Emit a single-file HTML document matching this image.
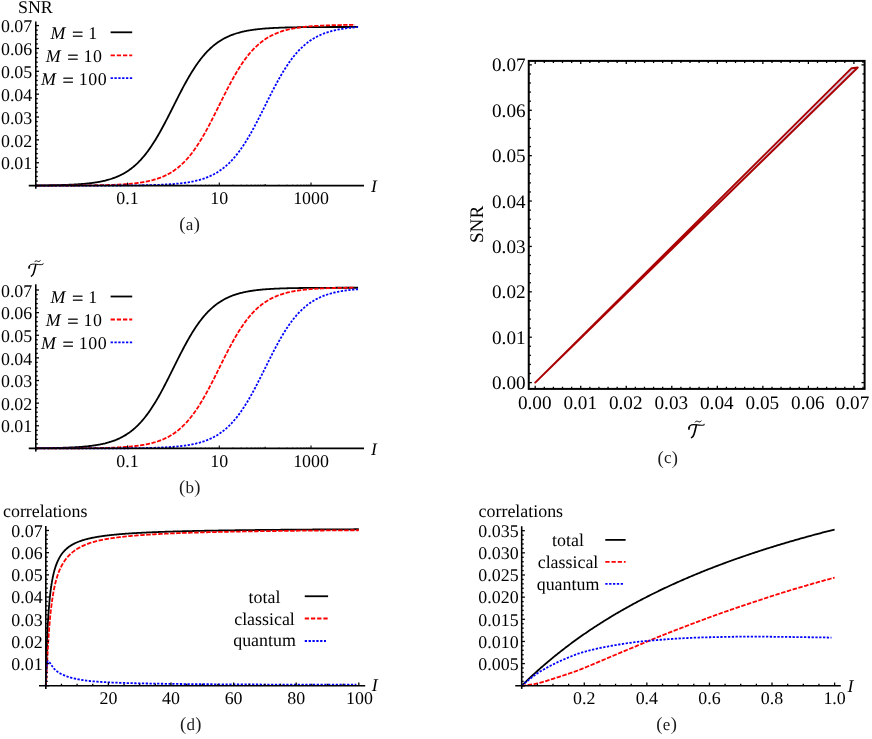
<!DOCTYPE html>
<html><head><meta charset="utf-8"><title>figure</title>
<style>html,body{margin:0;padding:0;background:#fff;}svg{display:block;}text{font-family:"Liberation Serif",serif;text-rendering:geometricPrecision;}svg{will-change:transform;}</style></head><body>
<svg width="872" height="739" viewBox="0 0 872 739">
<rect width="872" height="739" fill="#fff"/>
<path d="M35.78 185.44 L36.58 185.43 L37.39 185.43 L38.2 185.42 L39.01 185.41 L39.81 185.41 L40.62 185.4 L41.43 185.39 L42.24 185.38 L43.04 185.37 L43.85 185.36 L44.66 185.35 L45.47 185.34 L46.28 185.33 L47.08 185.32 L47.89 185.31 L48.7 185.3 L49.51 185.28 L50.31 185.27 L51.12 185.26 L51.93 185.24 L52.74 185.23 L53.54 185.21 L54.35 185.2 L55.16 185.18 L55.97 185.16 L56.78 185.15 L57.58 185.13 L58.39 185.11 L59.2 185.09 L60.01 185.07 L60.81 185.04 L61.62 185.02 L62.43 185 L63.24 184.97 L64.04 184.95 L64.85 184.92 L65.66 184.89 L66.47 184.86 L67.28 184.83 L68.08 184.8 L68.89 184.77 L69.7 184.73 L70.51 184.7 L71.31 184.66 L72.12 184.62 L72.93 184.58 L73.74 184.54 L74.54 184.5 L75.35 184.45 L76.16 184.4 L76.97 184.36 L77.78 184.3 L78.58 184.25 L79.39 184.2 L80.2 184.14 L81.01 184.08 L81.81 184.02 L82.62 183.95 L83.43 183.88 L84.24 183.81 L85.04 183.74 L85.85 183.66 L86.66 183.59 L87.47 183.5 L88.28 183.42 L89.08 183.33 L89.89 183.24 L90.7 183.14 L91.51 183.04 L92.31 182.94 L93.12 182.83 L93.93 182.72 L94.74 182.6 L95.54 182.48 L96.35 182.35 L97.16 182.22 L97.97 182.08 L98.78 181.94 L99.58 181.79 L100.39 181.64 L101.2 181.48 L102.01 181.31 L102.81 181.14 L103.62 180.96 L104.43 180.77 L105.24 180.58 L106.04 180.38 L106.85 180.17 L107.66 179.95 L108.47 179.73 L109.28 179.5 L110.08 179.25 L110.89 179 L111.7 178.74 L112.51 178.47 L113.31 178.19 L114.12 177.9 L114.93 177.59 L115.74 177.28 L116.54 176.96 L117.35 176.62 L118.16 176.27 L118.97 175.91 L119.78 175.53 L120.58 175.14 L121.39 174.74 L122.2 174.32 L123.01 173.89 L123.81 173.44 L124.62 172.98 L125.43 172.5 L126.24 172 L127.04 171.49 L127.85 170.96 L128.66 170.41 L129.47 169.85 L130.28 169.26 L131.08 168.66 L131.89 168.03 L132.7 167.39 L133.51 166.73 L134.31 166.04 L135.12 165.34 L135.93 164.61 L136.74 163.86 L137.55 163.09 L138.35 162.29 L139.16 161.48 L139.97 160.64 L140.78 159.77 L141.58 158.88 L142.39 157.97 L143.2 157.03 L144.01 156.07 L144.81 155.08 L145.62 154.07 L146.43 153.04 L147.24 151.97 L148.05 150.89 L148.85 149.77 L149.66 148.64 L150.47 147.48 L151.28 146.29 L152.08 145.08 L152.89 143.84 L153.7 142.58 L154.51 141.3 L155.31 140 L156.12 138.67 L156.93 137.32 L157.74 135.94 L158.55 134.55 L159.35 133.14 L160.16 131.7 L160.97 130.25 L161.78 128.78 L162.58 127.29 L163.39 125.79 L164.2 124.27 L165.01 122.74 L165.81 121.2 L166.62 119.64 L167.43 118.07 L168.24 116.5 L169.05 114.91 L169.85 113.32 L170.66 111.72 L171.47 110.12 L172.28 108.51 L173.08 106.91 L173.89 105.3 L174.7 103.69 L175.51 102.09 L176.31 100.48 L177.12 98.89 L177.93 97.3 L178.74 95.71 L179.55 94.14 L180.35 92.57 L181.16 91.02 L181.97 89.48 L182.78 87.95 L183.58 86.43 L184.39 84.93 L185.2 83.45 L186.01 81.98 L186.81 80.54 L187.62 79.11 L188.43 77.7 L189.24 76.31 L190.05 74.94 L190.85 73.59 L191.66 72.27 L192.47 70.97 L193.28 69.69 L194.08 68.44 L194.89 67.21 L195.7 66 L196.51 64.82 L197.31 63.67 L198.12 62.53 L198.93 61.43 L199.74 60.35 L200.55 59.29 L201.35 58.26 L202.16 57.25 L202.97 56.27 L203.78 55.31 L204.58 54.38 L205.39 53.47 L206.2 52.59 L207.01 51.73 L207.81 50.9 L208.62 50.08 L209.43 49.29 L210.24 48.53 L211.05 47.78 L211.85 47.06 L212.66 46.36 L213.47 45.68 L214.28 45.02 L215.08 44.38 L215.89 43.76 L216.7 43.16 L217.51 42.58 L218.31 42.02 L219.12 41.47 L219.93 40.95 L220.74 40.44 L221.55 39.95 L222.35 39.47 L223.16 39.01 L223.97 38.57 L224.78 38.14 L225.58 37.73 L226.39 37.33 L227.2 36.94 L228.01 36.57 L228.82 36.21 L229.62 35.86 L230.43 35.52 L231.24 35.2 L232.05 34.89 L232.85 34.59 L233.66 34.3 L234.47 34.02 L235.28 33.75 L236.08 33.49 L236.89 33.24 L237.7 33 L238.51 32.77 L239.32 32.55 L240.12 32.33 L240.93 32.13 L241.74 31.93 L242.55 31.74 L243.35 31.55 L244.16 31.37 L244.97 31.2 L245.78 31.04 L246.58 30.88 L247.39 30.73 L248.2 30.58 L249.01 30.44 L249.82 30.3 L250.62 30.17 L251.43 30.05 L252.24 29.93 L253.05 29.81 L253.85 29.7 L254.66 29.59 L255.47 29.49 L256.28 29.39 L257.08 29.29 L257.89 29.2 L258.7 29.11 L259.51 29.03 L260.32 28.95 L261.12 28.87 L261.93 28.79 L262.74 28.72 L263.55 28.65 L264.35 28.59 L265.16 28.52 L265.97 28.46 L266.78 28.4 L267.58 28.34 L268.39 28.29 L269.2 28.24 L270.01 28.19 L270.82 28.14 L271.62 28.09 L272.43 28.04 L273.24 28 L274.05 27.96 L274.85 27.92 L275.66 27.88 L276.47 27.85 L277.28 27.81 L278.08 27.78 L278.89 27.74 L279.7 27.71 L280.51 27.68 L281.32 27.65 L282.12 27.63 L282.93 27.6 L283.74 27.57 L284.55 27.55 L285.35 27.52 L286.16 27.5 L286.97 27.48 L287.78 27.46 L288.58 27.44 L289.39 27.42 L290.2 27.4 L291.01 27.38 L291.82 27.37 L292.62 27.35 L293.43 27.33 L294.24 27.32 L295.05 27.3 L295.85 27.29 L296.66 27.28 L297.47 27.26 L298.28 27.25 L299.08 27.24 L299.89 27.23 L300.7 27.22 L301.51 27.21 L302.32 27.2 L303.12 27.19 L303.93 27.18 L304.74 27.17 L305.55 27.16 L306.35 27.15 L307.16 27.14 L307.97 27.14 L308.78 27.13 L309.58 27.12 L310.39 27.12 L311.2 27.11 L312.01 27.1 L312.82 27.1 L313.62 27.09 L314.43 27.09 L315.24 27.08 L316.05 27.07 L316.85 27.07 L317.66 27.07 L318.47 27.06 L319.28 27.06 L320.09 27.05 L320.89 27.05 L321.7 27.04 L322.51 27.04 L323.32 27.04 L324.12 27.03 L324.93 27.03 L325.74 27.03 L326.55 27.02 L327.35 27.02 L328.16 27.02 L328.97 27.02 L329.78 27.01 L330.59 27.01 L331.39 27.01 L332.2 27.01 L333.01 27 L333.82 27 L334.62 27 L335.43 27 L336.24 27 L337.05 26.99 L337.85 26.99 L338.66 26.99 L339.47 26.99 L340.28 26.99 L341.09 26.99 L341.89 26.99 L342.7 26.98 L343.51 26.98 L344.32 26.98 L345.12 26.98 L345.93 26.98 L346.74 26.98 L347.55 26.98 L348.35 26.98 L349.16 26.97 L349.97 26.97 L350.78 26.97 L351.59 26.97 L352.39 26.97 L353.2 26.97 L354.01 26.97 L354.82 26.97 L355.62 26.97 L356.43 26.97 L357.24 26.97 L358.05 26.97" fill="none" stroke="#000" stroke-width="1.8" stroke-linejoin="round"/>
<path d="M35.78 185.58 L36.58 185.58 L37.38 185.58 L38.18 185.58 L38.98 185.58 L39.78 185.58 L40.58 185.58 L41.38 185.58 L42.18 185.58 L42.98 185.58 L43.78 185.58 L44.58 185.57 L45.38 185.57 L46.18 185.57 L46.98 185.57 L47.78 185.57 L48.58 185.57 L49.38 185.57 L50.18 185.57 L50.98 185.57 L51.78 185.56 L52.58 185.56 L53.38 185.56 L54.18 185.56 L54.98 185.56 L55.78 185.56 L56.58 185.55 L57.38 185.55 L58.18 185.55 L58.98 185.55 L59.78 185.55 L60.58 185.54 L61.38 185.54 L62.18 185.54 L62.98 185.54 L63.78 185.53 L64.58 185.53 L65.38 185.53 L66.18 185.53 L66.98 185.52 L67.78 185.52 L68.58 185.52 L69.38 185.51 L70.18 185.51 L70.98 185.51 L71.79 185.5 L72.59 185.5 L73.39 185.49 L74.19 185.49 L74.99 185.48 L75.79 185.48 L76.59 185.48 L77.39 185.47 L78.19 185.46 L78.99 185.46 L79.79 185.45 L80.59 185.45 L81.39 185.44 L82.19 185.43 L82.99 185.43 L83.79 185.42 L84.59 185.41 L85.39 185.41 L86.19 185.4 L86.99 185.39 L87.79 185.38 L88.59 185.37 L89.39 185.36 L90.19 185.35 L90.99 185.34 L91.79 185.33 L92.59 185.32 L93.39 185.31 L94.19 185.3 L94.99 185.29 L95.79 185.27 L96.59 185.26 L97.39 185.25 L98.19 185.23 L98.99 185.22 L99.79 185.2 L100.59 185.18 L101.39 185.17 L102.19 185.15 L102.99 185.13 L103.79 185.11 L104.59 185.09 L105.39 185.07 L106.19 185.05 L107 185.03 L107.8 185 L108.6 184.98 L109.4 184.95 L110.2 184.93 L111 184.9 L111.8 184.87 L112.6 184.84 L113.4 184.81 L114.2 184.78 L115 184.75 L115.8 184.71 L116.6 184.68 L117.4 184.64 L118.2 184.6 L119 184.56 L119.8 184.52 L120.6 184.47 L121.4 184.43 L122.2 184.38 L123 184.33 L123.8 184.28 L124.6 184.22 L125.4 184.17 L126.2 184.11 L127 184.05 L127.8 183.98 L128.6 183.92 L129.4 183.85 L130.2 183.78 L131 183.71 L131.8 183.63 L132.6 183.55 L133.4 183.47 L134.2 183.38 L135 183.29 L135.8 183.2 L136.6 183.1 L137.4 183 L138.2 182.9 L139 182.79 L139.8 182.67 L140.6 182.56 L141.4 182.43 L142.2 182.31 L143.01 182.17 L143.81 182.04 L144.61 181.89 L145.41 181.75 L146.21 181.59 L147.01 181.43 L147.81 181.27 L148.61 181.09 L149.41 180.91 L150.21 180.73 L151.01 180.53 L151.81 180.33 L152.61 180.13 L153.41 179.91 L154.21 179.68 L155.01 179.45 L155.81 179.21 L156.61 178.96 L157.41 178.7 L158.21 178.43 L159.01 178.15 L159.81 177.86 L160.61 177.55 L161.41 177.24 L162.21 176.92 L163.01 176.58 L163.81 176.23 L164.61 175.87 L165.41 175.5 L166.21 175.11 L167.01 174.71 L167.81 174.3 L168.61 173.87 L169.41 173.42 L170.21 172.96 L171.01 172.49 L171.81 171.99 L172.61 171.49 L173.41 170.96 L174.21 170.42 L175.01 169.86 L175.81 169.28 L176.61 168.68 L177.41 168.06 L178.22 167.42 L179.02 166.76 L179.82 166.09 L180.62 165.39 L181.42 164.67 L182.22 163.92 L183.02 163.16 L183.82 162.37 L184.62 161.56 L185.42 160.73 L186.22 159.87 L187.02 158.99 L187.82 158.09 L188.62 157.16 L189.42 156.21 L190.22 155.23 L191.02 154.23 L191.82 153.2 L192.62 152.15 L193.42 151.07 L194.22 149.97 L195.02 148.84 L195.82 147.69 L196.62 146.52 L197.42 145.32 L198.22 144.09 L199.02 142.84 L199.82 141.57 L200.62 140.27 L201.42 138.95 L202.22 137.61 L203.02 136.25 L203.82 134.86 L204.62 133.46 L205.42 132.03 L206.22 130.59 L207.02 129.12 L207.82 127.64 L208.62 126.14 L209.42 124.63 L210.22 123.1 L211.02 121.56 L211.82 120.01 L212.62 118.44 L213.43 116.86 L214.23 115.28 L215.03 113.68 L215.83 112.08 L216.63 110.47 L217.43 108.86 L218.23 107.25 L219.03 105.63 L219.83 104.02 L220.63 102.4 L221.43 100.79 L222.23 99.18 L223.03 97.58 L223.83 95.98 L224.63 94.39 L225.43 92.8 L226.23 91.23 L227.03 89.67 L227.83 88.12 L228.63 86.58 L229.43 85.06 L230.23 83.55 L231.03 82.06 L231.83 80.59 L232.63 79.13 L233.43 77.69 L234.23 76.27 L235.03 74.88 L235.83 73.5 L236.63 72.14 L237.43 70.81 L238.23 69.5 L239.03 68.21 L239.83 66.95 L240.63 65.71 L241.43 64.49 L242.23 63.3 L243.03 62.13 L243.83 60.99 L244.63 59.87 L245.43 58.78 L246.23 57.71 L247.03 56.67 L247.83 55.65 L248.63 54.66 L249.44 53.69 L250.24 52.75 L251.04 51.83 L251.84 50.94 L252.64 50.07 L253.44 49.22 L254.24 48.39 L255.04 47.59 L255.84 46.81 L256.64 46.06 L257.44 45.32 L258.24 44.61 L259.04 43.92 L259.84 43.25 L260.64 42.6 L261.44 41.97 L262.24 41.36 L263.04 40.77 L263.84 40.19 L264.64 39.64 L265.44 39.1 L266.24 38.58 L267.04 38.08 L267.84 37.6 L268.64 37.13 L269.44 36.67 L270.24 36.23 L271.04 35.81 L271.84 35.4 L272.64 35.01 L273.44 34.62 L274.24 34.25 L275.04 33.9 L275.84 33.56 L276.64 33.22 L277.44 32.9 L278.24 32.6 L279.04 32.3 L279.84 32.01 L280.64 31.74 L281.44 31.47 L282.24 31.21 L283.04 30.96 L283.84 30.73 L284.65 30.5 L285.45 30.27 L286.25 30.06 L287.05 29.86 L287.85 29.66 L288.65 29.47 L289.45 29.28 L290.25 29.11 L291.05 28.94 L291.85 28.77 L292.65 28.61 L293.45 28.46 L294.25 28.32 L295.05 28.18 L295.85 28.04 L296.65 27.91 L297.45 27.79 L298.25 27.66 L299.05 27.55 L299.85 27.44 L300.65 27.33 L301.45 27.23 L302.25 27.13 L303.05 27.03 L303.85 26.94 L304.65 26.85 L305.45 26.77 L306.25 26.69 L307.05 26.61 L307.85 26.53 L308.65 26.46 L309.45 26.39 L310.25 26.32 L311.05 26.26 L311.85 26.19 L312.65 26.14 L313.45 26.08 L314.25 26.02 L315.05 25.97 L315.85 25.92 L316.65 25.87 L317.45 25.82 L318.25 25.78 L319.05 25.73 L319.86 25.69 L320.66 25.65 L321.46 25.61 L322.26 25.58 L323.06 25.54 L323.86 25.51 L324.66 25.47 L325.46 25.44 L326.26 25.41 L327.06 25.38 L327.86 25.35 L328.66 25.33 L329.46 25.3 L330.26 25.28 L331.06 25.25 L331.86 25.23 L332.66 25.21 L333.46 25.19 L334.26 25.17 L335.06 25.15 L335.86 25.13 L336.66 25.11 L337.46 25.09 L338.26 25.07 L339.06 25.06 L339.86 25.04 L340.66 25.03 L341.46 25.01 L342.26 25 L343.06 24.99 L343.86 24.97 L344.66 24.96 L345.46 24.95 L346.26 24.94 L347.06 24.93 L347.86 24.92 L348.66 24.91 L349.46 24.9 L350.26 24.89 L351.06 24.88 L351.86 24.87 L352.66 24.86 L353.46 24.86 L354.26 24.85 L355.06 24.84" fill="none" stroke="#ff0000" stroke-width="1.8" stroke-dasharray="4.3 1.5" stroke-linejoin="round"/>
<path d="M35.78 185.6 L36.58 185.6 L37.39 185.6 L38.2 185.6 L39.01 185.6 L39.81 185.6 L40.62 185.6 L41.43 185.6 L42.24 185.6 L43.04 185.6 L43.85 185.6 L44.66 185.6 L45.47 185.6 L46.28 185.6 L47.08 185.6 L47.89 185.6 L48.7 185.6 L49.51 185.6 L50.31 185.6 L51.12 185.6 L51.93 185.6 L52.74 185.6 L53.54 185.6 L54.35 185.6 L55.16 185.6 L55.97 185.6 L56.78 185.6 L57.58 185.6 L58.39 185.6 L59.2 185.59 L60.01 185.59 L60.81 185.59 L61.62 185.59 L62.43 185.59 L63.24 185.59 L64.04 185.59 L64.85 185.59 L65.66 185.59 L66.47 185.59 L67.28 185.59 L68.08 185.59 L68.89 185.59 L69.7 185.59 L70.51 185.59 L71.31 185.59 L72.12 185.59 L72.93 185.59 L73.74 185.59 L74.54 185.59 L75.35 185.59 L76.16 185.59 L76.97 185.59 L77.78 185.59 L78.58 185.59 L79.39 185.59 L80.2 185.59 L81.01 185.58 L81.81 185.58 L82.62 185.58 L83.43 185.58 L84.24 185.58 L85.04 185.58 L85.85 185.58 L86.66 185.58 L87.47 185.58 L88.28 185.58 L89.08 185.58 L89.89 185.58 L90.7 185.57 L91.51 185.57 L92.31 185.57 L93.12 185.57 L93.93 185.57 L94.74 185.57 L95.54 185.57 L96.35 185.57 L97.16 185.57 L97.97 185.56 L98.78 185.56 L99.58 185.56 L100.39 185.56 L101.2 185.56 L102.01 185.56 L102.81 185.55 L103.62 185.55 L104.43 185.55 L105.24 185.55 L106.04 185.55 L106.85 185.54 L107.66 185.54 L108.47 185.54 L109.28 185.54 L110.08 185.53 L110.89 185.53 L111.7 185.53 L112.51 185.52 L113.31 185.52 L114.12 185.52 L114.93 185.52 L115.74 185.51 L116.54 185.51 L117.35 185.5 L118.16 185.5 L118.97 185.5 L119.78 185.49 L120.58 185.49 L121.39 185.48 L122.2 185.48 L123.01 185.47 L123.81 185.47 L124.62 185.46 L125.43 185.46 L126.24 185.45 L127.04 185.44 L127.85 185.44 L128.66 185.43 L129.47 185.42 L130.28 185.42 L131.08 185.41 L131.89 185.4 L132.7 185.39 L133.51 185.38 L134.31 185.38 L135.12 185.37 L135.93 185.36 L136.74 185.35 L137.55 185.34 L138.35 185.32 L139.16 185.31 L139.97 185.3 L140.78 185.29 L141.58 185.28 L142.39 185.26 L143.2 185.25 L144.01 185.23 L144.81 185.22 L145.62 185.2 L146.43 185.19 L147.24 185.17 L148.05 185.15 L148.85 185.13 L149.66 185.12 L150.47 185.1 L151.28 185.07 L152.08 185.05 L152.89 185.03 L153.7 185.01 L154.51 184.98 L155.31 184.96 L156.12 184.93 L156.93 184.9 L157.74 184.87 L158.55 184.84 L159.35 184.81 L160.16 184.78 L160.97 184.75 L161.78 184.71 L162.58 184.68 L163.39 184.64 L164.2 184.6 L165.01 184.56 L165.81 184.51 L166.62 184.47 L167.43 184.42 L168.24 184.37 L169.05 184.32 L169.85 184.27 L170.66 184.22 L171.47 184.16 L172.28 184.1 L173.08 184.04 L173.89 183.98 L174.7 183.91 L175.51 183.84 L176.31 183.77 L177.12 183.69 L177.93 183.62 L178.74 183.54 L179.55 183.45 L180.35 183.36 L181.16 183.27 L181.97 183.18 L182.78 183.08 L183.58 182.98 L184.39 182.87 L185.2 182.76 L186.01 182.64 L186.81 182.52 L187.62 182.4 L188.43 182.27 L189.24 182.13 L190.05 181.99 L190.85 181.85 L191.66 181.7 L192.47 181.54 L193.28 181.38 L194.08 181.21 L194.89 181.03 L195.7 180.84 L196.51 180.65 L197.31 180.46 L198.12 180.25 L198.93 180.04 L199.74 179.81 L200.55 179.58 L201.35 179.35 L202.16 179.1 L202.97 178.84 L203.78 178.57 L204.58 178.29 L205.39 178.01 L206.2 177.71 L207.01 177.4 L207.81 177.08 L208.62 176.74 L209.43 176.4 L210.24 176.04 L211.05 175.67 L211.85 175.29 L212.66 174.89 L213.47 174.47 L214.28 174.05 L215.08 173.61 L215.89 173.15 L216.7 172.67 L217.51 172.18 L218.31 171.68 L219.12 171.15 L219.93 170.61 L220.74 170.05 L221.55 169.47 L222.35 168.88 L223.16 168.26 L223.97 167.62 L224.78 166.97 L225.58 166.29 L226.39 165.59 L227.2 164.87 L228.01 164.12 L228.82 163.36 L229.62 162.57 L230.43 161.76 L231.24 160.93 L232.05 160.07 L232.85 159.19 L233.66 158.28 L234.47 157.35 L235.28 156.39 L236.08 155.41 L236.89 154.41 L237.7 153.38 L238.51 152.32 L239.32 151.24 L240.12 150.13 L240.93 149 L241.74 147.85 L242.55 146.66 L243.35 145.46 L244.16 144.23 L244.97 142.97 L245.78 141.69 L246.58 140.39 L247.39 139.06 L248.2 137.71 L249.01 136.34 L249.82 134.95 L250.62 133.53 L251.43 132.1 L252.24 130.65 L253.05 129.17 L253.85 127.68 L254.66 126.18 L255.47 124.66 L256.28 123.12 L257.08 121.57 L257.89 120 L258.7 118.43 L259.51 116.84 L260.32 115.25 L261.12 113.65 L261.93 112.04 L262.74 110.43 L263.55 108.81 L264.35 107.19 L265.16 105.57 L265.97 103.95 L266.78 102.33 L267.58 100.71 L268.39 99.09 L269.2 97.49 L270.01 95.88 L270.82 94.29 L271.62 92.71 L272.43 91.13 L273.24 89.57 L274.05 88.02 L274.85 86.48 L275.66 84.96 L276.47 83.45 L277.28 81.96 L278.08 80.49 L278.89 79.04 L279.7 77.61 L280.51 76.19 L281.32 74.8 L282.12 73.43 L282.93 72.08 L283.74 70.76 L284.55 69.45 L285.35 68.17 L286.16 66.92 L286.97 65.69 L287.78 64.48 L288.58 63.3 L289.39 62.14 L290.2 61.01 L291.01 59.91 L291.82 58.83 L292.62 57.77 L293.43 56.74 L294.24 55.74 L295.05 54.76 L295.85 53.8 L296.66 52.87 L297.47 51.97 L298.28 51.09 L299.08 50.23 L299.89 49.4 L300.7 48.59 L301.51 47.8 L302.32 47.03 L303.12 46.29 L303.93 45.57 L304.74 44.87 L305.55 44.2 L306.35 43.54 L307.16 42.9 L307.97 42.29 L308.78 41.69 L309.58 41.11 L310.39 40.55 L311.2 40.01 L312.01 39.49 L312.82 38.98 L313.62 38.49 L314.43 38.02 L315.24 37.56 L316.05 37.12 L316.85 36.69 L317.66 36.28 L318.47 35.88 L319.28 35.5 L320.09 35.13 L320.89 34.77 L321.7 34.43 L322.51 34.09 L323.32 33.77 L324.12 33.46 L324.93 33.16 L325.74 32.88 L326.55 32.6 L327.35 32.33 L328.16 32.08 L328.97 31.83 L329.78 31.59 L330.59 31.36 L331.39 31.14 L332.2 30.92 L333.01 30.72 L333.82 30.52 L334.62 30.33 L335.43 30.15 L336.24 29.97 L337.05 29.8 L337.85 29.64 L338.66 29.48 L339.47 29.33 L340.28 29.18 L341.09 29.04 L341.89 28.91 L342.7 28.78 L343.51 28.65 L344.32 28.53 L345.12 28.42 L345.93 28.31 L346.74 28.2 L347.55 28.1 L348.35 28 L349.16 27.91 L349.97 27.81 L350.78 27.73 L351.59 27.64 L352.39 27.56 L353.2 27.48 L354.01 27.41 L354.82 27.34 L355.62 27.27 L356.43 27.2 L357.24 27.14 L358.05 27.08" fill="none" stroke="#0000ff" stroke-width="1.8" stroke-dasharray="2.3 1.5" stroke-linejoin="round"/>
<line x1="28.75" y1="185.6" x2="364" y2="185.6" stroke="#000" stroke-width="1.6" />
<line x1="35.78" y1="21.5" x2="35.78" y2="188.75" stroke="#000" stroke-width="1.6" />
<line x1="35.78" y1="185.6" x2="38.98" y2="185.6" stroke="#000" stroke-width="1.3" />
<line x1="35.78" y1="181.03" x2="37.78" y2="181.03" stroke="#000" stroke-width="1.3" />
<line x1="35.78" y1="176.46" x2="37.78" y2="176.46" stroke="#000" stroke-width="1.3" />
<line x1="35.78" y1="171.88" x2="37.78" y2="171.88" stroke="#000" stroke-width="1.3" />
<line x1="35.78" y1="167.31" x2="37.78" y2="167.31" stroke="#000" stroke-width="1.3" />
<line x1="35.78" y1="162.74" x2="38.98" y2="162.74" stroke="#000" stroke-width="1.3" />
<text x="32.28" y="169.44" font-size="17.9" text-anchor="end" fill="#000" >0.01</text>
<line x1="35.78" y1="158.17" x2="37.78" y2="158.17" stroke="#000" stroke-width="1.3" />
<line x1="35.78" y1="153.6" x2="37.78" y2="153.6" stroke="#000" stroke-width="1.3" />
<line x1="35.78" y1="149.02" x2="37.78" y2="149.02" stroke="#000" stroke-width="1.3" />
<line x1="35.78" y1="144.45" x2="37.78" y2="144.45" stroke="#000" stroke-width="1.3" />
<line x1="35.78" y1="139.88" x2="38.98" y2="139.88" stroke="#000" stroke-width="1.3" />
<text x="32.28" y="146.58" font-size="17.9" text-anchor="end" fill="#000" >0.02</text>
<line x1="35.78" y1="135.31" x2="37.78" y2="135.31" stroke="#000" stroke-width="1.3" />
<line x1="35.78" y1="130.74" x2="37.78" y2="130.74" stroke="#000" stroke-width="1.3" />
<line x1="35.78" y1="126.16" x2="37.78" y2="126.16" stroke="#000" stroke-width="1.3" />
<line x1="35.78" y1="121.59" x2="37.78" y2="121.59" stroke="#000" stroke-width="1.3" />
<line x1="35.78" y1="117.02" x2="38.98" y2="117.02" stroke="#000" stroke-width="1.3" />
<text x="32.28" y="123.72" font-size="17.9" text-anchor="end" fill="#000" >0.03</text>
<line x1="35.78" y1="112.45" x2="37.78" y2="112.45" stroke="#000" stroke-width="1.3" />
<line x1="35.78" y1="107.88" x2="37.78" y2="107.88" stroke="#000" stroke-width="1.3" />
<line x1="35.78" y1="103.3" x2="37.78" y2="103.3" stroke="#000" stroke-width="1.3" />
<line x1="35.78" y1="98.73" x2="37.78" y2="98.73" stroke="#000" stroke-width="1.3" />
<line x1="35.78" y1="94.16" x2="38.98" y2="94.16" stroke="#000" stroke-width="1.3" />
<text x="32.28" y="100.86" font-size="17.9" text-anchor="end" fill="#000" >0.04</text>
<line x1="35.78" y1="89.59" x2="37.78" y2="89.59" stroke="#000" stroke-width="1.3" />
<line x1="35.78" y1="85.02" x2="37.78" y2="85.02" stroke="#000" stroke-width="1.3" />
<line x1="35.78" y1="80.44" x2="37.78" y2="80.44" stroke="#000" stroke-width="1.3" />
<line x1="35.78" y1="75.87" x2="37.78" y2="75.87" stroke="#000" stroke-width="1.3" />
<line x1="35.78" y1="71.3" x2="38.98" y2="71.3" stroke="#000" stroke-width="1.3" />
<text x="32.28" y="78" font-size="17.9" text-anchor="end" fill="#000" >0.05</text>
<line x1="35.78" y1="66.73" x2="37.78" y2="66.73" stroke="#000" stroke-width="1.3" />
<line x1="35.78" y1="62.16" x2="37.78" y2="62.16" stroke="#000" stroke-width="1.3" />
<line x1="35.78" y1="57.58" x2="37.78" y2="57.58" stroke="#000" stroke-width="1.3" />
<line x1="35.78" y1="53.01" x2="37.78" y2="53.01" stroke="#000" stroke-width="1.3" />
<line x1="35.78" y1="48.44" x2="38.98" y2="48.44" stroke="#000" stroke-width="1.3" />
<text x="32.28" y="55.14" font-size="17.9" text-anchor="end" fill="#000" >0.06</text>
<line x1="35.78" y1="43.87" x2="37.78" y2="43.87" stroke="#000" stroke-width="1.3" />
<line x1="35.78" y1="39.3" x2="37.78" y2="39.3" stroke="#000" stroke-width="1.3" />
<line x1="35.78" y1="34.72" x2="37.78" y2="34.72" stroke="#000" stroke-width="1.3" />
<line x1="35.78" y1="30.15" x2="37.78" y2="30.15" stroke="#000" stroke-width="1.3" />
<line x1="35.78" y1="25.58" x2="38.98" y2="25.58" stroke="#000" stroke-width="1.3" />
<text x="32.28" y="32.28" font-size="17.9" text-anchor="end" fill="#000" >0.07</text>
<line x1="49.58" y1="185.6" x2="49.58" y2="184.35" stroke="#000" stroke-width="0.5" />
<line x1="57.66" y1="185.6" x2="57.66" y2="184.35" stroke="#000" stroke-width="0.5" />
<line x1="63.39" y1="185.6" x2="63.39" y2="184.35" stroke="#000" stroke-width="0.5" />
<line x1="67.84" y1="185.6" x2="67.84" y2="184.35" stroke="#000" stroke-width="0.5" />
<line x1="71.47" y1="185.6" x2="71.47" y2="184.35" stroke="#000" stroke-width="0.5" />
<line x1="74.54" y1="185.6" x2="74.54" y2="184.35" stroke="#000" stroke-width="0.5" />
<line x1="77.2" y1="185.6" x2="77.2" y2="184.35" stroke="#000" stroke-width="0.5" />
<line x1="79.55" y1="185.6" x2="79.55" y2="184.35" stroke="#000" stroke-width="0.5" />
<line x1="81.65" y1="185.6" x2="81.65" y2="183.9" stroke="#000" stroke-width="1.1" />
<line x1="95.46" y1="185.6" x2="95.46" y2="184.35" stroke="#000" stroke-width="0.5" />
<line x1="103.54" y1="185.6" x2="103.54" y2="184.35" stroke="#000" stroke-width="0.5" />
<line x1="109.27" y1="185.6" x2="109.27" y2="184.35" stroke="#000" stroke-width="0.5" />
<line x1="113.72" y1="185.6" x2="113.72" y2="184.35" stroke="#000" stroke-width="0.5" />
<line x1="117.35" y1="185.6" x2="117.35" y2="184.35" stroke="#000" stroke-width="0.5" />
<line x1="120.42" y1="185.6" x2="120.42" y2="184.35" stroke="#000" stroke-width="0.5" />
<line x1="123.08" y1="185.6" x2="123.08" y2="184.35" stroke="#000" stroke-width="0.5" />
<line x1="125.43" y1="185.6" x2="125.43" y2="184.35" stroke="#000" stroke-width="0.5" />
<line x1="127.53" y1="185.6" x2="127.53" y2="182.6" stroke="#000" stroke-width="1.1" />
<line x1="141.33" y1="185.6" x2="141.33" y2="184.35" stroke="#000" stroke-width="0.5" />
<line x1="149.41" y1="185.6" x2="149.41" y2="184.35" stroke="#000" stroke-width="0.5" />
<line x1="155.14" y1="185.6" x2="155.14" y2="184.35" stroke="#000" stroke-width="0.5" />
<line x1="159.59" y1="185.6" x2="159.59" y2="184.35" stroke="#000" stroke-width="0.5" />
<line x1="163.22" y1="185.6" x2="163.22" y2="184.35" stroke="#000" stroke-width="0.5" />
<line x1="166.29" y1="185.6" x2="166.29" y2="184.35" stroke="#000" stroke-width="0.5" />
<line x1="168.95" y1="185.6" x2="168.95" y2="184.35" stroke="#000" stroke-width="0.5" />
<line x1="171.3" y1="185.6" x2="171.3" y2="184.35" stroke="#000" stroke-width="0.5" />
<line x1="173.4" y1="185.6" x2="173.4" y2="183.9" stroke="#000" stroke-width="1.1" />
<line x1="187.21" y1="185.6" x2="187.21" y2="184.35" stroke="#000" stroke-width="0.5" />
<line x1="195.29" y1="185.6" x2="195.29" y2="184.35" stroke="#000" stroke-width="0.5" />
<line x1="201.02" y1="185.6" x2="201.02" y2="184.35" stroke="#000" stroke-width="0.5" />
<line x1="205.47" y1="185.6" x2="205.47" y2="184.35" stroke="#000" stroke-width="0.5" />
<line x1="209.1" y1="185.6" x2="209.1" y2="184.35" stroke="#000" stroke-width="0.5" />
<line x1="212.17" y1="185.6" x2="212.17" y2="184.35" stroke="#000" stroke-width="0.5" />
<line x1="214.83" y1="185.6" x2="214.83" y2="184.35" stroke="#000" stroke-width="0.5" />
<line x1="217.18" y1="185.6" x2="217.18" y2="184.35" stroke="#000" stroke-width="0.5" />
<line x1="219.28" y1="185.6" x2="219.28" y2="182.6" stroke="#000" stroke-width="1.1" />
<line x1="233.08" y1="185.6" x2="233.08" y2="184.35" stroke="#000" stroke-width="0.5" />
<line x1="241.16" y1="185.6" x2="241.16" y2="184.35" stroke="#000" stroke-width="0.5" />
<line x1="246.89" y1="185.6" x2="246.89" y2="184.35" stroke="#000" stroke-width="0.5" />
<line x1="251.34" y1="185.6" x2="251.34" y2="184.35" stroke="#000" stroke-width="0.5" />
<line x1="254.97" y1="185.6" x2="254.97" y2="184.35" stroke="#000" stroke-width="0.5" />
<line x1="258.04" y1="185.6" x2="258.04" y2="184.35" stroke="#000" stroke-width="0.5" />
<line x1="260.7" y1="185.6" x2="260.7" y2="184.35" stroke="#000" stroke-width="0.5" />
<line x1="263.05" y1="185.6" x2="263.05" y2="184.35" stroke="#000" stroke-width="0.5" />
<line x1="265.15" y1="185.6" x2="265.15" y2="183.9" stroke="#000" stroke-width="1.1" />
<line x1="278.96" y1="185.6" x2="278.96" y2="184.35" stroke="#000" stroke-width="0.5" />
<line x1="287.04" y1="185.6" x2="287.04" y2="184.35" stroke="#000" stroke-width="0.5" />
<line x1="292.77" y1="185.6" x2="292.77" y2="184.35" stroke="#000" stroke-width="0.5" />
<line x1="297.22" y1="185.6" x2="297.22" y2="184.35" stroke="#000" stroke-width="0.5" />
<line x1="300.85" y1="185.6" x2="300.85" y2="184.35" stroke="#000" stroke-width="0.5" />
<line x1="303.92" y1="185.6" x2="303.92" y2="184.35" stroke="#000" stroke-width="0.5" />
<line x1="306.58" y1="185.6" x2="306.58" y2="184.35" stroke="#000" stroke-width="0.5" />
<line x1="308.93" y1="185.6" x2="308.93" y2="184.35" stroke="#000" stroke-width="0.5" />
<line x1="311.02" y1="185.6" x2="311.02" y2="182.6" stroke="#000" stroke-width="1.1" />
<text x="127.53" y="204" font-size="17.9" text-anchor="middle" fill="#000" >0.1</text>
<text x="219.28" y="204" font-size="17.9" text-anchor="middle" fill="#000" >10</text>
<text x="311.02" y="204" font-size="17.9" text-anchor="middle" fill="#000" >1000</text>
<text x="371" y="191.9" font-size="17.5" text-anchor="start" font-style="italic" fill="#000" >I</text>
<text x="18" y="12.6" font-size="17.9" text-anchor="start" fill="#000" >SNR</text>
<text x="74.1" y="38.7" font-size="17.9" text-anchor="middle" fill="#000"><tspan font-style="italic">M</tspan><tspan dx="6.7" dy="2.2" font-size="20" stroke="#000" stroke-width="0.25">=</tspan><tspan dx="4.9" dy="-2.2" letter-spacing="0.55">1</tspan></text>
<text x="74.1" y="61.9" font-size="17.9" text-anchor="middle" fill="#000"><tspan font-style="italic">M</tspan><tspan dx="6.7" dy="2.2" font-size="20" stroke="#000" stroke-width="0.25">=</tspan><tspan dx="4.9" dy="-2.2" letter-spacing="0.55">10</tspan></text>
<text x="74.1" y="84.9" font-size="17.9" text-anchor="middle" fill="#000"><tspan font-style="italic">M</tspan><tspan dx="6.7" dy="2.2" font-size="20" stroke="#000" stroke-width="0.25">=</tspan><tspan dx="4.9" dy="-2.2" letter-spacing="0.55">100</tspan></text>
<line x1="110.6" y1="32.3" x2="132.2" y2="32.3" stroke="#000" stroke-width="1.8" />
<line x1="110.6" y1="55.3" x2="132.2" y2="55.3" stroke="#ff0000" stroke-width="1.8" stroke-dasharray="4.3 1.9"/>
<line x1="110.6" y1="78.05" x2="132.2" y2="78.05" stroke="#0000ff" stroke-width="1.8" stroke-dasharray="2.3 1.55"/>
<text x="189.8" y="229.8" font-size="17" text-anchor="middle" fill="#1c1c1c" letter-spacing="0.3"><tspan font-size="18.6" dy="0.55">(</tspan><tspan dy="-0.55">a</tspan><tspan font-size="18.6" dy="0.55">)</tspan></text>
<path d="M35.78 448.24 L36.58 448.23 L37.39 448.23 L38.2 448.22 L39.01 448.21 L39.81 448.2 L40.62 448.2 L41.43 448.19 L42.24 448.18 L43.04 448.17 L43.85 448.16 L44.66 448.15 L45.47 448.14 L46.28 448.13 L47.08 448.12 L47.89 448.11 L48.7 448.09 L49.51 448.08 L50.31 448.07 L51.12 448.05 L51.93 448.04 L52.74 448.02 L53.54 448.01 L54.35 447.99 L55.16 447.98 L55.97 447.96 L56.78 447.94 L57.58 447.92 L58.39 447.9 L59.2 447.88 L60.01 447.86 L60.81 447.84 L61.62 447.81 L62.43 447.79 L63.24 447.76 L64.04 447.74 L64.85 447.71 L65.66 447.68 L66.47 447.65 L67.28 447.62 L68.08 447.59 L68.89 447.56 L69.7 447.52 L70.51 447.49 L71.31 447.45 L72.12 447.41 L72.93 447.37 L73.74 447.33 L74.54 447.28 L75.35 447.24 L76.16 447.19 L76.97 447.14 L77.78 447.09 L78.58 447.03 L79.39 446.98 L80.2 446.92 L81.01 446.86 L81.81 446.8 L82.62 446.73 L83.43 446.66 L84.24 446.59 L85.04 446.52 L85.85 446.44 L86.66 446.36 L87.47 446.28 L88.28 446.19 L89.08 446.1 L89.89 446.01 L90.7 445.91 L91.51 445.81 L92.31 445.7 L93.12 445.59 L93.93 445.48 L94.74 445.36 L95.54 445.24 L96.35 445.11 L97.16 444.97 L97.97 444.84 L98.78 444.69 L99.58 444.54 L100.39 444.39 L101.2 444.23 L102.01 444.06 L102.81 443.88 L103.62 443.7 L104.43 443.51 L105.24 443.32 L106.04 443.11 L106.85 442.9 L107.66 442.68 L108.47 442.45 L109.28 442.22 L110.08 441.97 L110.89 441.72 L111.7 441.45 L112.51 441.18 L113.31 440.89 L114.12 440.6 L114.93 440.29 L115.74 439.97 L116.54 439.64 L117.35 439.3 L118.16 438.95 L118.97 438.58 L119.78 438.2 L120.58 437.81 L121.39 437.4 L122.2 436.98 L123.01 436.54 L123.81 436.09 L124.62 435.62 L125.43 435.13 L126.24 434.63 L127.04 434.11 L127.85 433.57 L128.66 433.02 L129.47 432.45 L130.28 431.85 L131.08 431.24 L131.89 430.61 L132.7 429.96 L133.51 429.29 L134.31 428.59 L135.12 427.88 L135.93 427.14 L136.74 426.38 L137.55 425.6 L138.35 424.8 L139.16 423.97 L139.97 423.12 L140.78 422.24 L141.58 421.34 L142.39 420.42 L143.2 419.47 L144.01 418.49 L144.81 417.49 L145.62 416.47 L146.43 415.42 L147.24 414.34 L148.05 413.24 L148.85 412.12 L149.66 410.97 L150.47 409.79 L151.28 408.59 L152.08 407.36 L152.89 406.11 L153.7 404.83 L154.51 403.54 L155.31 402.21 L156.12 400.87 L156.93 399.5 L157.74 398.11 L158.55 396.7 L159.35 395.27 L160.16 393.82 L160.97 392.34 L161.78 390.86 L162.58 389.35 L163.39 387.83 L164.2 386.29 L165.01 384.74 L165.81 383.17 L166.62 381.6 L167.43 380.01 L168.24 378.41 L169.05 376.81 L169.85 375.2 L170.66 373.58 L171.47 371.95 L172.28 370.33 L173.08 368.7 L173.89 367.07 L174.7 365.45 L175.51 363.82 L176.31 362.2 L177.12 360.58 L177.93 358.97 L178.74 357.37 L179.55 355.77 L180.35 354.19 L181.16 352.61 L181.97 351.05 L182.78 349.5 L183.58 347.97 L184.39 346.45 L185.2 344.95 L186.01 343.46 L186.81 341.99 L187.62 340.55 L188.43 339.12 L189.24 337.71 L190.05 336.33 L190.85 334.97 L191.66 333.62 L192.47 332.31 L193.28 331.01 L194.08 329.74 L194.89 328.5 L195.7 327.28 L196.51 326.08 L197.31 324.91 L198.12 323.76 L198.93 322.64 L199.74 321.55 L200.55 320.48 L201.35 319.43 L202.16 318.41 L202.97 317.42 L203.78 316.45 L204.58 315.51 L205.39 314.59 L206.2 313.69 L207.01 312.82 L207.81 311.98 L208.62 311.15 L209.43 310.35 L210.24 309.58 L211.05 308.82 L211.85 308.09 L212.66 307.38 L213.47 306.69 L214.28 306.02 L215.08 305.38 L215.89 304.75 L216.7 304.14 L217.51 303.56 L218.31 302.99 L219.12 302.44 L219.93 301.9 L220.74 301.39 L221.55 300.89 L222.35 300.41 L223.16 299.94 L223.97 299.49 L224.78 299.06 L225.58 298.64 L226.39 298.23 L227.2 297.84 L228.01 297.46 L228.82 297.1 L229.62 296.75 L230.43 296.41 L231.24 296.08 L232.05 295.77 L232.85 295.46 L233.66 295.17 L234.47 294.89 L235.28 294.62 L236.08 294.35 L236.89 294.1 L237.7 293.86 L238.51 293.62 L239.32 293.4 L240.12 293.18 L240.93 292.97 L241.74 292.77 L242.55 292.57 L243.35 292.39 L244.16 292.21 L244.97 292.03 L245.78 291.87 L246.58 291.71 L247.39 291.55 L248.2 291.4 L249.01 291.26 L249.82 291.12 L250.62 290.99 L251.43 290.86 L252.24 290.74 L253.05 290.62 L253.85 290.51 L254.66 290.4 L255.47 290.3 L256.28 290.2 L257.08 290.1 L257.89 290.01 L258.7 289.92 L259.51 289.83 L260.32 289.75 L261.12 289.67 L261.93 289.59 L262.74 289.52 L263.55 289.45 L264.35 289.38 L265.16 289.32 L265.97 289.25 L266.78 289.19 L267.58 289.14 L268.39 289.08 L269.2 289.03 L270.01 288.98 L270.82 288.93 L271.62 288.88 L272.43 288.83 L273.24 288.79 L274.05 288.75 L274.85 288.71 L275.66 288.67 L276.47 288.63 L277.28 288.6 L278.08 288.56 L278.89 288.53 L279.7 288.5 L280.51 288.47 L281.32 288.44 L282.12 288.41 L282.93 288.38 L283.74 288.36 L284.55 288.33 L285.35 288.31 L286.16 288.28 L286.97 288.26 L287.78 288.24 L288.58 288.22 L289.39 288.2 L290.2 288.18 L291.01 288.16 L291.82 288.15 L292.62 288.13 L293.43 288.11 L294.24 288.1 L295.05 288.08 L295.85 288.07 L296.66 288.06 L297.47 288.04 L298.28 288.03 L299.08 288.02 L299.89 288.01 L300.7 288 L301.51 287.99 L302.32 287.98 L303.12 287.97 L303.93 287.96 L304.74 287.95 L305.55 287.94 L306.35 287.93 L307.16 287.92 L307.97 287.91 L308.78 287.91 L309.58 287.9 L310.39 287.89 L311.2 287.89 L312.01 287.88 L312.82 287.87 L313.62 287.87 L314.43 287.86 L315.24 287.86 L316.05 287.85 L316.85 287.85 L317.66 287.84 L318.47 287.84 L319.28 287.83 L320.09 287.83 L320.89 287.82 L321.7 287.82 L322.51 287.82 L323.32 287.81 L324.12 287.81 L324.93 287.81 L325.74 287.8 L326.55 287.8 L327.35 287.8 L328.16 287.79 L328.97 287.79 L329.78 287.79 L330.59 287.79 L331.39 287.78 L332.2 287.78 L333.01 287.78 L333.82 287.78 L334.62 287.78 L335.43 287.77 L336.24 287.77 L337.05 287.77 L337.85 287.77 L338.66 287.77 L339.47 287.77 L340.28 287.76 L341.09 287.76 L341.89 287.76 L342.7 287.76 L343.51 287.76 L344.32 287.76 L345.12 287.76 L345.93 287.75 L346.74 287.75 L347.55 287.75 L348.35 287.75 L349.16 287.75 L349.97 287.75 L350.78 287.75 L351.59 287.75 L352.39 287.75 L353.2 287.75 L354.01 287.75 L354.82 287.74 L355.62 287.74 L356.43 287.74 L357.24 287.74 L358.05 287.74" fill="none" stroke="#000" stroke-width="1.8" stroke-linejoin="round"/>
<path d="M35.78 448.38 L36.58 448.38 L37.38 448.38 L38.18 448.38 L38.98 448.38 L39.78 448.38 L40.58 448.38 L41.38 448.38 L42.18 448.38 L42.98 448.38 L43.78 448.38 L44.58 448.37 L45.38 448.37 L46.18 448.37 L46.98 448.37 L47.78 448.37 L48.58 448.37 L49.38 448.37 L50.18 448.37 L50.98 448.37 L51.78 448.36 L52.58 448.36 L53.38 448.36 L54.18 448.36 L54.98 448.36 L55.78 448.36 L56.58 448.35 L57.38 448.35 L58.18 448.35 L58.98 448.35 L59.78 448.35 L60.58 448.34 L61.38 448.34 L62.18 448.34 L62.98 448.34 L63.78 448.33 L64.58 448.33 L65.38 448.33 L66.18 448.33 L66.98 448.32 L67.78 448.32 L68.58 448.32 L69.38 448.31 L70.18 448.31 L70.98 448.31 L71.79 448.3 L72.59 448.3 L73.39 448.29 L74.19 448.29 L74.99 448.28 L75.79 448.28 L76.59 448.28 L77.39 448.27 L78.19 448.26 L78.99 448.26 L79.79 448.25 L80.59 448.25 L81.39 448.24 L82.19 448.23 L82.99 448.23 L83.79 448.22 L84.59 448.21 L85.39 448.21 L86.19 448.2 L86.99 448.19 L87.79 448.18 L88.59 448.17 L89.39 448.16 L90.19 448.15 L90.99 448.14 L91.79 448.13 L92.59 448.12 L93.39 448.11 L94.19 448.1 L94.99 448.09 L95.79 448.07 L96.59 448.06 L97.39 448.05 L98.19 448.03 L98.99 448.02 L99.79 448 L100.59 447.98 L101.39 447.97 L102.19 447.95 L102.99 447.93 L103.79 447.91 L104.59 447.89 L105.39 447.87 L106.19 447.85 L107 447.83 L107.8 447.8 L108.6 447.78 L109.4 447.75 L110.2 447.73 L111 447.7 L111.8 447.67 L112.6 447.64 L113.4 447.61 L114.2 447.58 L115 447.55 L115.8 447.51 L116.6 447.48 L117.4 447.44 L118.2 447.4 L119 447.36 L119.8 447.32 L120.6 447.27 L121.4 447.23 L122.2 447.18 L123 447.13 L123.8 447.08 L124.6 447.02 L125.4 446.97 L126.2 446.91 L127 446.85 L127.8 446.78 L128.6 446.72 L129.4 446.65 L130.2 446.58 L131 446.51 L131.8 446.43 L132.6 446.35 L133.4 446.27 L134.2 446.18 L135 446.09 L135.8 446 L136.6 445.9 L137.4 445.8 L138.2 445.7 L139 445.59 L139.8 445.47 L140.6 445.36 L141.4 445.23 L142.2 445.11 L143.01 444.98 L143.81 444.84 L144.61 444.7 L145.41 444.55 L146.21 444.39 L147.01 444.23 L147.81 444.07 L148.61 443.89 L149.41 443.71 L150.21 443.53 L151.01 443.34 L151.81 443.13 L152.61 442.93 L153.41 442.71 L154.21 442.49 L155.01 442.25 L155.81 442.01 L156.61 441.76 L157.41 441.5 L158.21 441.23 L159.01 440.95 L159.81 440.66 L160.61 440.36 L161.41 440.04 L162.21 439.72 L163.01 439.38 L163.81 439.04 L164.61 438.67 L165.41 438.3 L166.21 437.91 L167.01 437.51 L167.81 437.1 L168.61 436.67 L169.41 436.23 L170.21 435.77 L171.01 435.29 L171.81 434.8 L172.61 434.29 L173.41 433.76 L174.21 433.22 L175.01 432.66 L175.81 432.08 L176.61 431.48 L177.41 430.86 L178.22 430.23 L179.02 429.57 L179.82 428.89 L180.62 428.19 L181.42 427.47 L182.22 426.73 L183.02 425.96 L183.82 425.18 L184.62 424.37 L185.42 423.53 L186.22 422.68 L187.02 421.8 L187.82 420.89 L188.62 419.97 L189.42 419.01 L190.22 418.04 L191.02 417.04 L191.82 416.01 L192.62 414.96 L193.42 413.88 L194.22 412.78 L195.02 411.65 L195.82 410.5 L196.62 409.32 L197.42 408.12 L198.22 406.9 L199.02 405.65 L199.82 404.38 L200.62 403.08 L201.42 401.76 L202.22 400.42 L203.02 399.06 L203.82 397.67 L204.62 396.27 L205.42 394.84 L206.22 393.4 L207.02 391.94 L207.82 390.45 L208.62 388.96 L209.42 387.44 L210.22 385.92 L211.02 384.37 L211.82 382.82 L212.62 381.25 L213.43 379.68 L214.23 378.09 L215.03 376.5 L215.83 374.9 L216.63 373.29 L217.43 371.68 L218.23 370.07 L219.03 368.45 L219.83 366.84 L220.63 365.22 L221.43 363.61 L222.23 362 L223.03 360.4 L223.83 358.8 L224.63 357.21 L225.43 355.62 L226.23 354.05 L227.03 352.49 L227.83 350.94 L228.63 349.4 L229.43 347.88 L230.23 346.37 L231.03 344.88 L231.83 343.41 L232.63 341.95 L233.43 340.51 L234.23 339.1 L235.03 337.7 L235.83 336.32 L236.63 334.97 L237.43 333.63 L238.23 332.32 L239.03 331.04 L239.83 329.77 L240.63 328.53 L241.43 327.32 L242.23 326.13 L243.03 324.96 L243.83 323.82 L244.63 322.7 L245.43 321.61 L246.23 320.54 L247.03 319.5 L247.83 318.48 L248.63 317.49 L249.44 316.52 L250.24 315.58 L251.04 314.66 L251.84 313.77 L252.64 312.9 L253.44 312.05 L254.24 311.22 L255.04 310.42 L255.84 309.64 L256.64 308.89 L257.44 308.15 L258.24 307.44 L259.04 306.75 L259.84 306.08 L260.64 305.43 L261.44 304.8 L262.24 304.19 L263.04 303.6 L263.84 303.03 L264.64 302.47 L265.44 301.94 L266.24 301.42 L267.04 300.91 L267.84 300.43 L268.64 299.96 L269.44 299.51 L270.24 299.07 L271.04 298.64 L271.84 298.23 L272.64 297.84 L273.44 297.46 L274.24 297.09 L275.04 296.73 L275.84 296.39 L276.64 296.06 L277.44 295.74 L278.24 295.43 L279.04 295.13 L279.84 294.85 L280.64 294.57 L281.44 294.3 L282.24 294.05 L283.04 293.8 L283.84 293.56 L284.65 293.33 L285.45 293.11 L286.25 292.89 L287.05 292.69 L287.85 292.49 L288.65 292.3 L289.45 292.12 L290.25 291.94 L291.05 291.77 L291.85 291.61 L292.65 291.45 L293.45 291.3 L294.25 291.15 L295.05 291.01 L295.85 290.87 L296.65 290.74 L297.45 290.62 L298.25 290.5 L299.05 290.38 L299.85 290.27 L300.65 290.16 L301.45 290.06 L302.25 289.96 L303.05 289.87 L303.85 289.77 L304.65 289.69 L305.45 289.6 L306.25 289.52 L307.05 289.44 L307.85 289.37 L308.65 289.29 L309.45 289.22 L310.25 289.16 L311.05 289.09 L311.85 289.03 L312.65 288.97 L313.45 288.91 L314.25 288.86 L315.05 288.8 L315.85 288.75 L316.65 288.7 L317.45 288.66 L318.25 288.61 L319.05 288.57 L319.86 288.53 L320.66 288.49 L321.46 288.45 L322.26 288.41 L323.06 288.38 L323.86 288.34 L324.66 288.31 L325.46 288.28 L326.26 288.25 L327.06 288.22 L327.86 288.19 L328.66 288.16 L329.46 288.14 L330.26 288.11 L331.06 288.09 L331.86 288.06 L332.66 288.04 L333.46 288.02 L334.26 288 L335.06 287.98 L335.86 287.96 L336.66 287.94 L337.46 287.93 L338.26 287.91 L339.06 287.89 L339.86 287.88 L340.66 287.86 L341.46 287.85 L342.26 287.84 L343.06 287.82 L343.86 287.81 L344.66 287.8 L345.46 287.79 L346.26 287.77 L347.06 287.76 L347.86 287.75 L348.66 287.74 L349.46 287.73 L350.26 287.72 L351.06 287.72 L351.86 287.71 L352.66 287.7 L353.46 287.69 L354.26 287.68 L355.06 287.68" fill="none" stroke="#ff0000" stroke-width="1.8" stroke-dasharray="4.3 1.5" stroke-linejoin="round"/>
<path d="M35.78 448.4 L36.58 448.4 L37.39 448.4 L38.2 448.4 L39.01 448.4 L39.81 448.4 L40.62 448.4 L41.43 448.4 L42.24 448.4 L43.04 448.4 L43.85 448.4 L44.66 448.4 L45.47 448.4 L46.28 448.4 L47.08 448.4 L47.89 448.4 L48.7 448.4 L49.51 448.4 L50.31 448.4 L51.12 448.4 L51.93 448.4 L52.74 448.4 L53.54 448.4 L54.35 448.4 L55.16 448.4 L55.97 448.4 L56.78 448.4 L57.58 448.4 L58.39 448.4 L59.2 448.39 L60.01 448.39 L60.81 448.39 L61.62 448.39 L62.43 448.39 L63.24 448.39 L64.04 448.39 L64.85 448.39 L65.66 448.39 L66.47 448.39 L67.28 448.39 L68.08 448.39 L68.89 448.39 L69.7 448.39 L70.51 448.39 L71.31 448.39 L72.12 448.39 L72.93 448.39 L73.74 448.39 L74.54 448.39 L75.35 448.39 L76.16 448.39 L76.97 448.39 L77.78 448.39 L78.58 448.39 L79.39 448.39 L80.2 448.39 L81.01 448.38 L81.81 448.38 L82.62 448.38 L83.43 448.38 L84.24 448.38 L85.04 448.38 L85.85 448.38 L86.66 448.38 L87.47 448.38 L88.28 448.38 L89.08 448.38 L89.89 448.38 L90.7 448.37 L91.51 448.37 L92.31 448.37 L93.12 448.37 L93.93 448.37 L94.74 448.37 L95.54 448.37 L96.35 448.37 L97.16 448.37 L97.97 448.36 L98.78 448.36 L99.58 448.36 L100.39 448.36 L101.2 448.36 L102.01 448.36 L102.81 448.35 L103.62 448.35 L104.43 448.35 L105.24 448.35 L106.04 448.35 L106.85 448.34 L107.66 448.34 L108.47 448.34 L109.28 448.34 L110.08 448.33 L110.89 448.33 L111.7 448.33 L112.51 448.32 L113.31 448.32 L114.12 448.32 L114.93 448.31 L115.74 448.31 L116.54 448.31 L117.35 448.3 L118.16 448.3 L118.97 448.3 L119.78 448.29 L120.58 448.29 L121.39 448.28 L122.2 448.28 L123.01 448.27 L123.81 448.27 L124.62 448.26 L125.43 448.26 L126.24 448.25 L127.04 448.24 L127.85 448.24 L128.66 448.23 L129.47 448.22 L130.28 448.22 L131.08 448.21 L131.89 448.2 L132.7 448.19 L133.51 448.18 L134.31 448.17 L135.12 448.17 L135.93 448.16 L136.74 448.15 L137.55 448.13 L138.35 448.12 L139.16 448.11 L139.97 448.1 L140.78 448.09 L141.58 448.08 L142.39 448.06 L143.2 448.05 L144.01 448.03 L144.81 448.02 L145.62 448 L146.43 447.99 L147.24 447.97 L148.05 447.95 L148.85 447.93 L149.66 447.91 L150.47 447.89 L151.28 447.87 L152.08 447.85 L152.89 447.83 L153.7 447.8 L154.51 447.78 L155.31 447.75 L156.12 447.73 L156.93 447.7 L157.74 447.67 L158.55 447.64 L159.35 447.61 L160.16 447.58 L160.97 447.54 L161.78 447.51 L162.58 447.47 L163.39 447.43 L164.2 447.39 L165.01 447.35 L165.81 447.31 L166.62 447.26 L167.43 447.22 L168.24 447.17 L169.05 447.12 L169.85 447.07 L170.66 447.01 L171.47 446.95 L172.28 446.9 L173.08 446.83 L173.89 446.77 L174.7 446.7 L175.51 446.63 L176.31 446.56 L177.12 446.49 L177.93 446.41 L178.74 446.33 L179.55 446.24 L180.35 446.15 L181.16 446.06 L181.97 445.97 L182.78 445.87 L183.58 445.77 L184.39 445.66 L185.2 445.55 L186.01 445.43 L186.81 445.31 L187.62 445.18 L188.43 445.05 L189.24 444.92 L190.05 444.78 L190.85 444.63 L191.66 444.48 L192.47 444.32 L193.28 444.16 L194.08 443.99 L194.89 443.81 L195.7 443.63 L196.51 443.43 L197.31 443.24 L198.12 443.03 L198.93 442.81 L199.74 442.59 L200.55 442.36 L201.35 442.12 L202.16 441.87 L202.97 441.61 L203.78 441.34 L204.58 441.06 L205.39 440.78 L206.2 440.48 L207.01 440.16 L207.81 439.84 L208.62 439.51 L209.43 439.16 L210.24 438.8 L211.05 438.43 L211.85 438.04 L212.66 437.64 L213.47 437.23 L214.28 436.8 L215.08 436.36 L215.89 435.9 L216.7 435.42 L217.51 434.93 L218.31 434.42 L219.12 433.89 L219.93 433.35 L220.74 432.79 L221.55 432.21 L222.35 431.61 L223.16 430.99 L223.97 430.35 L224.78 429.69 L225.58 429.01 L226.39 428.31 L227.2 427.58 L228.01 426.84 L228.82 426.07 L229.62 425.28 L230.43 424.46 L231.24 423.63 L232.05 422.76 L232.85 421.88 L233.66 420.97 L234.47 420.03 L235.28 419.08 L236.08 418.09 L236.89 417.08 L237.7 416.05 L238.51 414.99 L239.32 413.9 L240.12 412.79 L240.93 411.65 L241.74 410.49 L242.55 409.3 L243.35 408.09 L244.16 406.86 L244.97 405.6 L245.78 404.31 L246.58 403 L247.39 401.67 L248.2 400.32 L249.01 398.94 L249.82 397.54 L250.62 396.12 L251.43 394.68 L252.24 393.22 L253.05 391.74 L253.85 390.25 L254.66 388.73 L255.47 387.21 L256.28 385.66 L257.08 384.11 L257.89 382.54 L258.7 380.96 L259.51 379.36 L260.32 377.76 L261.12 376.15 L261.93 374.54 L262.74 372.92 L263.55 371.3 L264.35 369.67 L265.16 368.04 L265.97 366.41 L266.78 364.79 L267.58 363.16 L268.39 361.54 L269.2 359.93 L270.01 358.32 L270.82 356.72 L271.62 355.13 L272.43 353.55 L273.24 351.98 L274.05 350.42 L274.85 348.88 L275.66 347.35 L276.47 345.84 L277.28 344.34 L278.08 342.86 L278.89 341.41 L279.7 339.97 L280.51 338.55 L281.32 337.15 L282.12 335.77 L282.93 334.42 L283.74 333.09 L284.55 331.78 L285.35 330.49 L286.16 329.23 L286.97 328 L287.78 326.79 L288.58 325.6 L289.39 324.44 L290.2 323.31 L291.01 322.2 L291.82 321.11 L292.62 320.05 L293.43 319.02 L294.24 318.01 L295.05 317.02 L295.85 316.07 L296.66 315.13 L297.47 314.22 L298.28 313.34 L299.08 312.48 L299.89 311.64 L300.7 310.83 L301.51 310.04 L302.32 309.27 L303.12 308.52 L303.93 307.8 L304.74 307.1 L305.55 306.42 L306.35 305.76 L307.16 305.12 L307.97 304.5 L308.78 303.9 L309.58 303.32 L310.39 302.76 L311.2 302.22 L312.01 301.69 L312.82 301.18 L313.62 300.69 L314.43 300.22 L315.24 299.76 L316.05 299.31 L316.85 298.89 L317.66 298.47 L318.47 298.07 L319.28 297.69 L320.09 297.31 L320.89 296.96 L321.7 296.61 L322.51 296.28 L323.32 295.95 L324.12 295.64 L324.93 295.34 L325.74 295.05 L326.55 294.78 L327.35 294.51 L328.16 294.25 L328.97 294 L329.78 293.76 L330.59 293.53 L331.39 293.31 L332.2 293.09 L333.01 292.89 L333.82 292.69 L334.62 292.5 L335.43 292.31 L336.24 292.13 L337.05 291.96 L337.85 291.8 L338.66 291.64 L339.47 291.49 L340.28 291.34 L341.09 291.2 L341.89 291.07 L342.7 290.94 L343.51 290.81 L344.32 290.69 L345.12 290.58 L345.93 290.47 L346.74 290.36 L347.55 290.26 L348.35 290.16 L349.16 290.06 L349.97 289.97 L350.78 289.88 L351.59 289.8 L352.39 289.72 L353.2 289.64 L354.01 289.56 L354.82 289.49 L355.62 289.42 L356.43 289.36 L357.24 289.29 L358.05 289.23" fill="none" stroke="#0000ff" stroke-width="1.8" stroke-dasharray="2.3 1.5" stroke-linejoin="round"/>
<line x1="28.75" y1="448.4" x2="364" y2="448.4" stroke="#000" stroke-width="1.6" />
<line x1="35.78" y1="284.3" x2="35.78" y2="451.55" stroke="#000" stroke-width="1.6" />
<line x1="35.78" y1="448.4" x2="38.98" y2="448.4" stroke="#000" stroke-width="1.3" />
<line x1="35.78" y1="443.87" x2="37.78" y2="443.87" stroke="#000" stroke-width="1.3" />
<line x1="35.78" y1="439.35" x2="37.78" y2="439.35" stroke="#000" stroke-width="1.3" />
<line x1="35.78" y1="434.82" x2="37.78" y2="434.82" stroke="#000" stroke-width="1.3" />
<line x1="35.78" y1="430.3" x2="37.78" y2="430.3" stroke="#000" stroke-width="1.3" />
<line x1="35.78" y1="425.77" x2="38.98" y2="425.77" stroke="#000" stroke-width="1.3" />
<text x="32.28" y="432.47" font-size="17.9" text-anchor="end" fill="#000" >0.01</text>
<line x1="35.78" y1="421.24" x2="37.78" y2="421.24" stroke="#000" stroke-width="1.3" />
<line x1="35.78" y1="416.72" x2="37.78" y2="416.72" stroke="#000" stroke-width="1.3" />
<line x1="35.78" y1="412.19" x2="37.78" y2="412.19" stroke="#000" stroke-width="1.3" />
<line x1="35.78" y1="407.67" x2="37.78" y2="407.67" stroke="#000" stroke-width="1.3" />
<line x1="35.78" y1="403.14" x2="38.98" y2="403.14" stroke="#000" stroke-width="1.3" />
<text x="32.28" y="409.84" font-size="17.9" text-anchor="end" fill="#000" >0.02</text>
<line x1="35.78" y1="398.61" x2="37.78" y2="398.61" stroke="#000" stroke-width="1.3" />
<line x1="35.78" y1="394.09" x2="37.78" y2="394.09" stroke="#000" stroke-width="1.3" />
<line x1="35.78" y1="389.56" x2="37.78" y2="389.56" stroke="#000" stroke-width="1.3" />
<line x1="35.78" y1="385.04" x2="37.78" y2="385.04" stroke="#000" stroke-width="1.3" />
<line x1="35.78" y1="380.51" x2="38.98" y2="380.51" stroke="#000" stroke-width="1.3" />
<text x="32.28" y="387.21" font-size="17.9" text-anchor="end" fill="#000" >0.03</text>
<line x1="35.78" y1="375.98" x2="37.78" y2="375.98" stroke="#000" stroke-width="1.3" />
<line x1="35.78" y1="371.46" x2="37.78" y2="371.46" stroke="#000" stroke-width="1.3" />
<line x1="35.78" y1="366.93" x2="37.78" y2="366.93" stroke="#000" stroke-width="1.3" />
<line x1="35.78" y1="362.41" x2="37.78" y2="362.41" stroke="#000" stroke-width="1.3" />
<line x1="35.78" y1="357.88" x2="38.98" y2="357.88" stroke="#000" stroke-width="1.3" />
<text x="32.28" y="364.58" font-size="17.9" text-anchor="end" fill="#000" >0.04</text>
<line x1="35.78" y1="353.35" x2="37.78" y2="353.35" stroke="#000" stroke-width="1.3" />
<line x1="35.78" y1="348.83" x2="37.78" y2="348.83" stroke="#000" stroke-width="1.3" />
<line x1="35.78" y1="344.3" x2="37.78" y2="344.3" stroke="#000" stroke-width="1.3" />
<line x1="35.78" y1="339.78" x2="37.78" y2="339.78" stroke="#000" stroke-width="1.3" />
<line x1="35.78" y1="335.25" x2="38.98" y2="335.25" stroke="#000" stroke-width="1.3" />
<text x="32.28" y="341.95" font-size="17.9" text-anchor="end" fill="#000" >0.05</text>
<line x1="35.78" y1="330.72" x2="37.78" y2="330.72" stroke="#000" stroke-width="1.3" />
<line x1="35.78" y1="326.2" x2="37.78" y2="326.2" stroke="#000" stroke-width="1.3" />
<line x1="35.78" y1="321.67" x2="37.78" y2="321.67" stroke="#000" stroke-width="1.3" />
<line x1="35.78" y1="317.15" x2="37.78" y2="317.15" stroke="#000" stroke-width="1.3" />
<line x1="35.78" y1="312.62" x2="38.98" y2="312.62" stroke="#000" stroke-width="1.3" />
<text x="32.28" y="319.32" font-size="17.9" text-anchor="end" fill="#000" >0.06</text>
<line x1="35.78" y1="308.09" x2="37.78" y2="308.09" stroke="#000" stroke-width="1.3" />
<line x1="35.78" y1="303.57" x2="37.78" y2="303.57" stroke="#000" stroke-width="1.3" />
<line x1="35.78" y1="299.04" x2="37.78" y2="299.04" stroke="#000" stroke-width="1.3" />
<line x1="35.78" y1="294.52" x2="37.78" y2="294.52" stroke="#000" stroke-width="1.3" />
<line x1="35.78" y1="289.99" x2="38.98" y2="289.99" stroke="#000" stroke-width="1.3" />
<text x="32.28" y="296.69" font-size="17.9" text-anchor="end" fill="#000" >0.07</text>
<line x1="49.58" y1="448.4" x2="49.58" y2="447.15" stroke="#000" stroke-width="0.5" />
<line x1="57.66" y1="448.4" x2="57.66" y2="447.15" stroke="#000" stroke-width="0.5" />
<line x1="63.39" y1="448.4" x2="63.39" y2="447.15" stroke="#000" stroke-width="0.5" />
<line x1="67.84" y1="448.4" x2="67.84" y2="447.15" stroke="#000" stroke-width="0.5" />
<line x1="71.47" y1="448.4" x2="71.47" y2="447.15" stroke="#000" stroke-width="0.5" />
<line x1="74.54" y1="448.4" x2="74.54" y2="447.15" stroke="#000" stroke-width="0.5" />
<line x1="77.2" y1="448.4" x2="77.2" y2="447.15" stroke="#000" stroke-width="0.5" />
<line x1="79.55" y1="448.4" x2="79.55" y2="447.15" stroke="#000" stroke-width="0.5" />
<line x1="81.65" y1="448.4" x2="81.65" y2="446.7" stroke="#000" stroke-width="1.1" />
<line x1="95.46" y1="448.4" x2="95.46" y2="447.15" stroke="#000" stroke-width="0.5" />
<line x1="103.54" y1="448.4" x2="103.54" y2="447.15" stroke="#000" stroke-width="0.5" />
<line x1="109.27" y1="448.4" x2="109.27" y2="447.15" stroke="#000" stroke-width="0.5" />
<line x1="113.72" y1="448.4" x2="113.72" y2="447.15" stroke="#000" stroke-width="0.5" />
<line x1="117.35" y1="448.4" x2="117.35" y2="447.15" stroke="#000" stroke-width="0.5" />
<line x1="120.42" y1="448.4" x2="120.42" y2="447.15" stroke="#000" stroke-width="0.5" />
<line x1="123.08" y1="448.4" x2="123.08" y2="447.15" stroke="#000" stroke-width="0.5" />
<line x1="125.43" y1="448.4" x2="125.43" y2="447.15" stroke="#000" stroke-width="0.5" />
<line x1="127.53" y1="448.4" x2="127.53" y2="445.4" stroke="#000" stroke-width="1.1" />
<line x1="141.33" y1="448.4" x2="141.33" y2="447.15" stroke="#000" stroke-width="0.5" />
<line x1="149.41" y1="448.4" x2="149.41" y2="447.15" stroke="#000" stroke-width="0.5" />
<line x1="155.14" y1="448.4" x2="155.14" y2="447.15" stroke="#000" stroke-width="0.5" />
<line x1="159.59" y1="448.4" x2="159.59" y2="447.15" stroke="#000" stroke-width="0.5" />
<line x1="163.22" y1="448.4" x2="163.22" y2="447.15" stroke="#000" stroke-width="0.5" />
<line x1="166.29" y1="448.4" x2="166.29" y2="447.15" stroke="#000" stroke-width="0.5" />
<line x1="168.95" y1="448.4" x2="168.95" y2="447.15" stroke="#000" stroke-width="0.5" />
<line x1="171.3" y1="448.4" x2="171.3" y2="447.15" stroke="#000" stroke-width="0.5" />
<line x1="173.4" y1="448.4" x2="173.4" y2="446.7" stroke="#000" stroke-width="1.1" />
<line x1="187.21" y1="448.4" x2="187.21" y2="447.15" stroke="#000" stroke-width="0.5" />
<line x1="195.29" y1="448.4" x2="195.29" y2="447.15" stroke="#000" stroke-width="0.5" />
<line x1="201.02" y1="448.4" x2="201.02" y2="447.15" stroke="#000" stroke-width="0.5" />
<line x1="205.47" y1="448.4" x2="205.47" y2="447.15" stroke="#000" stroke-width="0.5" />
<line x1="209.1" y1="448.4" x2="209.1" y2="447.15" stroke="#000" stroke-width="0.5" />
<line x1="212.17" y1="448.4" x2="212.17" y2="447.15" stroke="#000" stroke-width="0.5" />
<line x1="214.83" y1="448.4" x2="214.83" y2="447.15" stroke="#000" stroke-width="0.5" />
<line x1="217.18" y1="448.4" x2="217.18" y2="447.15" stroke="#000" stroke-width="0.5" />
<line x1="219.28" y1="448.4" x2="219.28" y2="445.4" stroke="#000" stroke-width="1.1" />
<line x1="233.08" y1="448.4" x2="233.08" y2="447.15" stroke="#000" stroke-width="0.5" />
<line x1="241.16" y1="448.4" x2="241.16" y2="447.15" stroke="#000" stroke-width="0.5" />
<line x1="246.89" y1="448.4" x2="246.89" y2="447.15" stroke="#000" stroke-width="0.5" />
<line x1="251.34" y1="448.4" x2="251.34" y2="447.15" stroke="#000" stroke-width="0.5" />
<line x1="254.97" y1="448.4" x2="254.97" y2="447.15" stroke="#000" stroke-width="0.5" />
<line x1="258.04" y1="448.4" x2="258.04" y2="447.15" stroke="#000" stroke-width="0.5" />
<line x1="260.7" y1="448.4" x2="260.7" y2="447.15" stroke="#000" stroke-width="0.5" />
<line x1="263.05" y1="448.4" x2="263.05" y2="447.15" stroke="#000" stroke-width="0.5" />
<line x1="265.15" y1="448.4" x2="265.15" y2="446.7" stroke="#000" stroke-width="1.1" />
<line x1="278.96" y1="448.4" x2="278.96" y2="447.15" stroke="#000" stroke-width="0.5" />
<line x1="287.04" y1="448.4" x2="287.04" y2="447.15" stroke="#000" stroke-width="0.5" />
<line x1="292.77" y1="448.4" x2="292.77" y2="447.15" stroke="#000" stroke-width="0.5" />
<line x1="297.22" y1="448.4" x2="297.22" y2="447.15" stroke="#000" stroke-width="0.5" />
<line x1="300.85" y1="448.4" x2="300.85" y2="447.15" stroke="#000" stroke-width="0.5" />
<line x1="303.92" y1="448.4" x2="303.92" y2="447.15" stroke="#000" stroke-width="0.5" />
<line x1="306.58" y1="448.4" x2="306.58" y2="447.15" stroke="#000" stroke-width="0.5" />
<line x1="308.93" y1="448.4" x2="308.93" y2="447.15" stroke="#000" stroke-width="0.5" />
<line x1="311.02" y1="448.4" x2="311.02" y2="445.4" stroke="#000" stroke-width="1.1" />
<text x="127.53" y="466.8" font-size="17.9" text-anchor="middle" fill="#000" >0.1</text>
<text x="219.28" y="466.8" font-size="17.9" text-anchor="middle" fill="#000" >10</text>
<text x="311.02" y="466.8" font-size="17.9" text-anchor="middle" fill="#000" >1000</text>
<text x="371" y="454.7" font-size="17.5" text-anchor="start" font-style="italic" fill="#000" >I</text>
<g transform="translate(28.5 260.8) scale(1)" fill="none" stroke="#000" stroke-linecap="round" stroke-linejoin="round">
<path d="M0.45 7.5 C0.1 6.6 0.3 5.2 1.2 4.4 C2.6 3.2 5.5 3.1 8 3.5 C10.5 3.9 12.5 4.1 14.3 3.6 L14.6 2.9" stroke-width="0.95"/>
<path d="M0.6 7.3 C0.4 6.6 0.7 5.9 1.2 5.3" stroke-width="1.3"/>
<path d="M7.3 3.9 C6.7 6.5 6.1 9.5 5.2 12.2 C4.8 13.6 4.1 14.7 2.9 15.3" stroke-width="1.5"/>
<path d="M6.3 0.9 C6.8 -0.1 7.9 -0.2 9.0 0.4 C10.1 1.0 11.2 1.0 11.8 -0.2" stroke-width="0.9"/>
</g>
<text x="74.1" y="303.1" font-size="17.9" text-anchor="middle" fill="#000"><tspan font-style="italic">M</tspan><tspan dx="6.7" dy="2.2" font-size="20" stroke="#000" stroke-width="0.25">=</tspan><tspan dx="4.9" dy="-2.2" letter-spacing="0.55">1</tspan></text>
<text x="74.1" y="326.2" font-size="17.9" text-anchor="middle" fill="#000"><tspan font-style="italic">M</tspan><tspan dx="6.7" dy="2.2" font-size="20" stroke="#000" stroke-width="0.25">=</tspan><tspan dx="4.9" dy="-2.2" letter-spacing="0.55">10</tspan></text>
<text x="74.1" y="349.2" font-size="17.9" text-anchor="middle" fill="#000"><tspan font-style="italic">M</tspan><tspan dx="6.7" dy="2.2" font-size="20" stroke="#000" stroke-width="0.25">=</tspan><tspan dx="4.9" dy="-2.2" letter-spacing="0.55">100</tspan></text>
<line x1="110.6" y1="296.5" x2="132.2" y2="296.5" stroke="#000" stroke-width="1.8" />
<line x1="110.6" y1="319.5" x2="132.2" y2="319.5" stroke="#ff0000" stroke-width="1.8" stroke-dasharray="4.3 1.9"/>
<line x1="110.6" y1="342.3" x2="132.2" y2="342.3" stroke="#0000ff" stroke-width="1.8" stroke-dasharray="2.3 1.55"/>
<text x="189.8" y="492.6" font-size="17" text-anchor="middle" fill="#1c1c1c" letter-spacing="0.3"><tspan font-size="18.6" dy="0.55">(</tspan><tspan dy="-0.55">b</tspan><tspan font-size="18.6" dy="0.55">)</tspan></text>
<line x1="535.2" y1="388.9" x2="535.2" y2="385.8" stroke="#000" stroke-width="1.3" />
<line x1="535.2" y1="60.9" x2="535.2" y2="64" stroke="#000" stroke-width="1.3" />
<text x="534.7" y="409.1" font-size="19.2" text-anchor="middle" fill="#000" >0.00</text>
<line x1="528.75" y1="382.6" x2="531.85" y2="382.6" stroke="#000" stroke-width="1.3" />
<line x1="864.6" y1="382.6" x2="861.5" y2="382.6" stroke="#000" stroke-width="1.3" />
<text x="525.6" y="389.2" font-size="19.2" text-anchor="end" fill="#000" >0.00</text>
<line x1="544.31" y1="388.9" x2="544.31" y2="386.75" stroke="#000" stroke-width="1.3" />
<line x1="544.31" y1="60.9" x2="544.31" y2="63.05" stroke="#000" stroke-width="1.3" />
<line x1="528.75" y1="373.52" x2="530.9" y2="373.52" stroke="#000" stroke-width="1.3" />
<line x1="864.6" y1="373.52" x2="862.45" y2="373.52" stroke="#000" stroke-width="1.3" />
<line x1="553.41" y1="388.9" x2="553.41" y2="386.75" stroke="#000" stroke-width="1.3" />
<line x1="553.41" y1="60.9" x2="553.41" y2="63.05" stroke="#000" stroke-width="1.3" />
<line x1="528.75" y1="364.44" x2="530.9" y2="364.44" stroke="#000" stroke-width="1.3" />
<line x1="864.6" y1="364.44" x2="862.45" y2="364.44" stroke="#000" stroke-width="1.3" />
<line x1="562.52" y1="388.9" x2="562.52" y2="386.75" stroke="#000" stroke-width="1.3" />
<line x1="562.52" y1="60.9" x2="562.52" y2="63.05" stroke="#000" stroke-width="1.3" />
<line x1="528.75" y1="355.37" x2="530.9" y2="355.37" stroke="#000" stroke-width="1.3" />
<line x1="864.6" y1="355.37" x2="862.45" y2="355.37" stroke="#000" stroke-width="1.3" />
<line x1="571.62" y1="388.9" x2="571.62" y2="386.75" stroke="#000" stroke-width="1.3" />
<line x1="571.62" y1="60.9" x2="571.62" y2="63.05" stroke="#000" stroke-width="1.3" />
<line x1="528.75" y1="346.29" x2="530.9" y2="346.29" stroke="#000" stroke-width="1.3" />
<line x1="864.6" y1="346.29" x2="862.45" y2="346.29" stroke="#000" stroke-width="1.3" />
<line x1="580.73" y1="388.9" x2="580.73" y2="385.8" stroke="#000" stroke-width="1.3" />
<line x1="580.73" y1="60.9" x2="580.73" y2="64" stroke="#000" stroke-width="1.3" />
<text x="580.23" y="409.1" font-size="19.2" text-anchor="middle" fill="#000" >0.01</text>
<line x1="528.75" y1="337.21" x2="531.85" y2="337.21" stroke="#000" stroke-width="1.3" />
<line x1="864.6" y1="337.21" x2="861.5" y2="337.21" stroke="#000" stroke-width="1.3" />
<text x="525.6" y="343.81" font-size="19.2" text-anchor="end" fill="#000" >0.01</text>
<line x1="589.84" y1="388.9" x2="589.84" y2="386.75" stroke="#000" stroke-width="1.3" />
<line x1="589.84" y1="60.9" x2="589.84" y2="63.05" stroke="#000" stroke-width="1.3" />
<line x1="528.75" y1="328.13" x2="530.9" y2="328.13" stroke="#000" stroke-width="1.3" />
<line x1="864.6" y1="328.13" x2="862.45" y2="328.13" stroke="#000" stroke-width="1.3" />
<line x1="598.94" y1="388.9" x2="598.94" y2="386.75" stroke="#000" stroke-width="1.3" />
<line x1="598.94" y1="60.9" x2="598.94" y2="63.05" stroke="#000" stroke-width="1.3" />
<line x1="528.75" y1="319.05" x2="530.9" y2="319.05" stroke="#000" stroke-width="1.3" />
<line x1="864.6" y1="319.05" x2="862.45" y2="319.05" stroke="#000" stroke-width="1.3" />
<line x1="608.05" y1="388.9" x2="608.05" y2="386.75" stroke="#000" stroke-width="1.3" />
<line x1="608.05" y1="60.9" x2="608.05" y2="63.05" stroke="#000" stroke-width="1.3" />
<line x1="528.75" y1="309.98" x2="530.9" y2="309.98" stroke="#000" stroke-width="1.3" />
<line x1="864.6" y1="309.98" x2="862.45" y2="309.98" stroke="#000" stroke-width="1.3" />
<line x1="617.15" y1="388.9" x2="617.15" y2="386.75" stroke="#000" stroke-width="1.3" />
<line x1="617.15" y1="60.9" x2="617.15" y2="63.05" stroke="#000" stroke-width="1.3" />
<line x1="528.75" y1="300.9" x2="530.9" y2="300.9" stroke="#000" stroke-width="1.3" />
<line x1="864.6" y1="300.9" x2="862.45" y2="300.9" stroke="#000" stroke-width="1.3" />
<line x1="626.26" y1="388.9" x2="626.26" y2="385.8" stroke="#000" stroke-width="1.3" />
<line x1="626.26" y1="60.9" x2="626.26" y2="64" stroke="#000" stroke-width="1.3" />
<text x="625.76" y="409.1" font-size="19.2" text-anchor="middle" fill="#000" >0.02</text>
<line x1="528.75" y1="291.82" x2="531.85" y2="291.82" stroke="#000" stroke-width="1.3" />
<line x1="864.6" y1="291.82" x2="861.5" y2="291.82" stroke="#000" stroke-width="1.3" />
<text x="525.6" y="298.42" font-size="19.2" text-anchor="end" fill="#000" >0.02</text>
<line x1="635.37" y1="388.9" x2="635.37" y2="386.75" stroke="#000" stroke-width="1.3" />
<line x1="635.37" y1="60.9" x2="635.37" y2="63.05" stroke="#000" stroke-width="1.3" />
<line x1="528.75" y1="282.74" x2="530.9" y2="282.74" stroke="#000" stroke-width="1.3" />
<line x1="864.6" y1="282.74" x2="862.45" y2="282.74" stroke="#000" stroke-width="1.3" />
<line x1="644.47" y1="388.9" x2="644.47" y2="386.75" stroke="#000" stroke-width="1.3" />
<line x1="644.47" y1="60.9" x2="644.47" y2="63.05" stroke="#000" stroke-width="1.3" />
<line x1="528.75" y1="273.66" x2="530.9" y2="273.66" stroke="#000" stroke-width="1.3" />
<line x1="864.6" y1="273.66" x2="862.45" y2="273.66" stroke="#000" stroke-width="1.3" />
<line x1="653.58" y1="388.9" x2="653.58" y2="386.75" stroke="#000" stroke-width="1.3" />
<line x1="653.58" y1="60.9" x2="653.58" y2="63.05" stroke="#000" stroke-width="1.3" />
<line x1="528.75" y1="264.59" x2="530.9" y2="264.59" stroke="#000" stroke-width="1.3" />
<line x1="864.6" y1="264.59" x2="862.45" y2="264.59" stroke="#000" stroke-width="1.3" />
<line x1="662.68" y1="388.9" x2="662.68" y2="386.75" stroke="#000" stroke-width="1.3" />
<line x1="662.68" y1="60.9" x2="662.68" y2="63.05" stroke="#000" stroke-width="1.3" />
<line x1="528.75" y1="255.51" x2="530.9" y2="255.51" stroke="#000" stroke-width="1.3" />
<line x1="864.6" y1="255.51" x2="862.45" y2="255.51" stroke="#000" stroke-width="1.3" />
<line x1="671.79" y1="388.9" x2="671.79" y2="385.8" stroke="#000" stroke-width="1.3" />
<line x1="671.79" y1="60.9" x2="671.79" y2="64" stroke="#000" stroke-width="1.3" />
<text x="671.29" y="409.1" font-size="19.2" text-anchor="middle" fill="#000" >0.03</text>
<line x1="528.75" y1="246.43" x2="531.85" y2="246.43" stroke="#000" stroke-width="1.3" />
<line x1="864.6" y1="246.43" x2="861.5" y2="246.43" stroke="#000" stroke-width="1.3" />
<text x="525.6" y="253.03" font-size="19.2" text-anchor="end" fill="#000" >0.03</text>
<line x1="680.9" y1="388.9" x2="680.9" y2="386.75" stroke="#000" stroke-width="1.3" />
<line x1="680.9" y1="60.9" x2="680.9" y2="63.05" stroke="#000" stroke-width="1.3" />
<line x1="528.75" y1="237.35" x2="530.9" y2="237.35" stroke="#000" stroke-width="1.3" />
<line x1="864.6" y1="237.35" x2="862.45" y2="237.35" stroke="#000" stroke-width="1.3" />
<line x1="690" y1="388.9" x2="690" y2="386.75" stroke="#000" stroke-width="1.3" />
<line x1="690" y1="60.9" x2="690" y2="63.05" stroke="#000" stroke-width="1.3" />
<line x1="528.75" y1="228.27" x2="530.9" y2="228.27" stroke="#000" stroke-width="1.3" />
<line x1="864.6" y1="228.27" x2="862.45" y2="228.27" stroke="#000" stroke-width="1.3" />
<line x1="699.11" y1="388.9" x2="699.11" y2="386.75" stroke="#000" stroke-width="1.3" />
<line x1="699.11" y1="60.9" x2="699.11" y2="63.05" stroke="#000" stroke-width="1.3" />
<line x1="528.75" y1="219.2" x2="530.9" y2="219.2" stroke="#000" stroke-width="1.3" />
<line x1="864.6" y1="219.2" x2="862.45" y2="219.2" stroke="#000" stroke-width="1.3" />
<line x1="708.21" y1="388.9" x2="708.21" y2="386.75" stroke="#000" stroke-width="1.3" />
<line x1="708.21" y1="60.9" x2="708.21" y2="63.05" stroke="#000" stroke-width="1.3" />
<line x1="528.75" y1="210.12" x2="530.9" y2="210.12" stroke="#000" stroke-width="1.3" />
<line x1="864.6" y1="210.12" x2="862.45" y2="210.12" stroke="#000" stroke-width="1.3" />
<line x1="717.32" y1="388.9" x2="717.32" y2="385.8" stroke="#000" stroke-width="1.3" />
<line x1="717.32" y1="60.9" x2="717.32" y2="64" stroke="#000" stroke-width="1.3" />
<text x="716.82" y="409.1" font-size="19.2" text-anchor="middle" fill="#000" >0.04</text>
<line x1="528.75" y1="201.04" x2="531.85" y2="201.04" stroke="#000" stroke-width="1.3" />
<line x1="864.6" y1="201.04" x2="861.5" y2="201.04" stroke="#000" stroke-width="1.3" />
<text x="525.6" y="207.64" font-size="19.2" text-anchor="end" fill="#000" >0.04</text>
<line x1="726.43" y1="388.9" x2="726.43" y2="386.75" stroke="#000" stroke-width="1.3" />
<line x1="726.43" y1="60.9" x2="726.43" y2="63.05" stroke="#000" stroke-width="1.3" />
<line x1="528.75" y1="191.96" x2="530.9" y2="191.96" stroke="#000" stroke-width="1.3" />
<line x1="864.6" y1="191.96" x2="862.45" y2="191.96" stroke="#000" stroke-width="1.3" />
<line x1="735.53" y1="388.9" x2="735.53" y2="386.75" stroke="#000" stroke-width="1.3" />
<line x1="735.53" y1="60.9" x2="735.53" y2="63.05" stroke="#000" stroke-width="1.3" />
<line x1="528.75" y1="182.88" x2="530.9" y2="182.88" stroke="#000" stroke-width="1.3" />
<line x1="864.6" y1="182.88" x2="862.45" y2="182.88" stroke="#000" stroke-width="1.3" />
<line x1="744.64" y1="388.9" x2="744.64" y2="386.75" stroke="#000" stroke-width="1.3" />
<line x1="744.64" y1="60.9" x2="744.64" y2="63.05" stroke="#000" stroke-width="1.3" />
<line x1="528.75" y1="173.81" x2="530.9" y2="173.81" stroke="#000" stroke-width="1.3" />
<line x1="864.6" y1="173.81" x2="862.45" y2="173.81" stroke="#000" stroke-width="1.3" />
<line x1="753.74" y1="388.9" x2="753.74" y2="386.75" stroke="#000" stroke-width="1.3" />
<line x1="753.74" y1="60.9" x2="753.74" y2="63.05" stroke="#000" stroke-width="1.3" />
<line x1="528.75" y1="164.73" x2="530.9" y2="164.73" stroke="#000" stroke-width="1.3" />
<line x1="864.6" y1="164.73" x2="862.45" y2="164.73" stroke="#000" stroke-width="1.3" />
<line x1="762.85" y1="388.9" x2="762.85" y2="385.8" stroke="#000" stroke-width="1.3" />
<line x1="762.85" y1="60.9" x2="762.85" y2="64" stroke="#000" stroke-width="1.3" />
<text x="762.35" y="409.1" font-size="19.2" text-anchor="middle" fill="#000" >0.05</text>
<line x1="528.75" y1="155.65" x2="531.85" y2="155.65" stroke="#000" stroke-width="1.3" />
<line x1="864.6" y1="155.65" x2="861.5" y2="155.65" stroke="#000" stroke-width="1.3" />
<text x="525.6" y="162.25" font-size="19.2" text-anchor="end" fill="#000" >0.05</text>
<line x1="771.96" y1="388.9" x2="771.96" y2="386.75" stroke="#000" stroke-width="1.3" />
<line x1="771.96" y1="60.9" x2="771.96" y2="63.05" stroke="#000" stroke-width="1.3" />
<line x1="528.75" y1="146.57" x2="530.9" y2="146.57" stroke="#000" stroke-width="1.3" />
<line x1="864.6" y1="146.57" x2="862.45" y2="146.57" stroke="#000" stroke-width="1.3" />
<line x1="781.06" y1="388.9" x2="781.06" y2="386.75" stroke="#000" stroke-width="1.3" />
<line x1="781.06" y1="60.9" x2="781.06" y2="63.05" stroke="#000" stroke-width="1.3" />
<line x1="528.75" y1="137.49" x2="530.9" y2="137.49" stroke="#000" stroke-width="1.3" />
<line x1="864.6" y1="137.49" x2="862.45" y2="137.49" stroke="#000" stroke-width="1.3" />
<line x1="790.17" y1="388.9" x2="790.17" y2="386.75" stroke="#000" stroke-width="1.3" />
<line x1="790.17" y1="60.9" x2="790.17" y2="63.05" stroke="#000" stroke-width="1.3" />
<line x1="528.75" y1="128.42" x2="530.9" y2="128.42" stroke="#000" stroke-width="1.3" />
<line x1="864.6" y1="128.42" x2="862.45" y2="128.42" stroke="#000" stroke-width="1.3" />
<line x1="799.27" y1="388.9" x2="799.27" y2="386.75" stroke="#000" stroke-width="1.3" />
<line x1="799.27" y1="60.9" x2="799.27" y2="63.05" stroke="#000" stroke-width="1.3" />
<line x1="528.75" y1="119.34" x2="530.9" y2="119.34" stroke="#000" stroke-width="1.3" />
<line x1="864.6" y1="119.34" x2="862.45" y2="119.34" stroke="#000" stroke-width="1.3" />
<line x1="808.38" y1="388.9" x2="808.38" y2="385.8" stroke="#000" stroke-width="1.3" />
<line x1="808.38" y1="60.9" x2="808.38" y2="64" stroke="#000" stroke-width="1.3" />
<text x="807.88" y="409.1" font-size="19.2" text-anchor="middle" fill="#000" >0.06</text>
<line x1="528.75" y1="110.26" x2="531.85" y2="110.26" stroke="#000" stroke-width="1.3" />
<line x1="864.6" y1="110.26" x2="861.5" y2="110.26" stroke="#000" stroke-width="1.3" />
<text x="525.6" y="116.86" font-size="19.2" text-anchor="end" fill="#000" >0.06</text>
<line x1="817.49" y1="388.9" x2="817.49" y2="386.75" stroke="#000" stroke-width="1.3" />
<line x1="817.49" y1="60.9" x2="817.49" y2="63.05" stroke="#000" stroke-width="1.3" />
<line x1="528.75" y1="101.18" x2="530.9" y2="101.18" stroke="#000" stroke-width="1.3" />
<line x1="864.6" y1="101.18" x2="862.45" y2="101.18" stroke="#000" stroke-width="1.3" />
<line x1="826.59" y1="388.9" x2="826.59" y2="386.75" stroke="#000" stroke-width="1.3" />
<line x1="826.59" y1="60.9" x2="826.59" y2="63.05" stroke="#000" stroke-width="1.3" />
<line x1="528.75" y1="92.1" x2="530.9" y2="92.1" stroke="#000" stroke-width="1.3" />
<line x1="864.6" y1="92.1" x2="862.45" y2="92.1" stroke="#000" stroke-width="1.3" />
<line x1="835.7" y1="388.9" x2="835.7" y2="386.75" stroke="#000" stroke-width="1.3" />
<line x1="835.7" y1="60.9" x2="835.7" y2="63.05" stroke="#000" stroke-width="1.3" />
<line x1="528.75" y1="83.03" x2="530.9" y2="83.03" stroke="#000" stroke-width="1.3" />
<line x1="864.6" y1="83.03" x2="862.45" y2="83.03" stroke="#000" stroke-width="1.3" />
<line x1="844.8" y1="388.9" x2="844.8" y2="386.75" stroke="#000" stroke-width="1.3" />
<line x1="844.8" y1="60.9" x2="844.8" y2="63.05" stroke="#000" stroke-width="1.3" />
<line x1="528.75" y1="73.95" x2="530.9" y2="73.95" stroke="#000" stroke-width="1.3" />
<line x1="864.6" y1="73.95" x2="862.45" y2="73.95" stroke="#000" stroke-width="1.3" />
<line x1="853.91" y1="388.9" x2="853.91" y2="385.8" stroke="#000" stroke-width="1.3" />
<line x1="853.91" y1="60.9" x2="853.91" y2="64" stroke="#000" stroke-width="1.3" />
<text x="852.51" y="409.1" font-size="19.2" text-anchor="middle" fill="#000" >0.07</text>
<line x1="528.75" y1="64.87" x2="531.85" y2="64.87" stroke="#000" stroke-width="1.3" />
<line x1="864.6" y1="64.87" x2="861.5" y2="64.87" stroke="#000" stroke-width="1.3" />
<text x="525.6" y="71.47" font-size="19.2" text-anchor="end" fill="#000" >0.07</text>
<line x1="863.02" y1="388.9" x2="863.02" y2="386.75" stroke="#000" stroke-width="1.3" />
<line x1="863.02" y1="60.9" x2="863.02" y2="63.05" stroke="#000" stroke-width="1.3" />
<path d="M535.2 382.6 L851.6 68.2 L857.8 67.5 Z" fill="#d8cfe2" stroke="#ab0000" stroke-width="1.9" stroke-linejoin="round"/>
<rect x="528.75" y="60.9" width="335.85" height="328" fill="none" stroke="#000" stroke-width="2"/>
<text transform="translate(483.4 224.4) rotate(-90)" font-size="19.2" text-anchor="middle" fill="#000">SNR</text>
<g transform="translate(688.4 421.1) scale(1.08)" fill="none" stroke="#000" stroke-linecap="round" stroke-linejoin="round">
<path d="M0.45 7.5 C0.1 6.6 0.3 5.2 1.2 4.4 C2.6 3.2 5.5 3.1 8 3.5 C10.5 3.9 12.5 4.1 14.3 3.6 L14.6 2.9" stroke-width="0.95"/>
<path d="M0.6 7.3 C0.4 6.6 0.7 5.9 1.2 5.3" stroke-width="1.3"/>
<path d="M7.3 3.9 C6.7 6.5 6.1 9.5 5.2 12.2 C4.8 13.6 4.1 14.7 2.9 15.3" stroke-width="1.5"/>
<path d="M6.3 0.9 C6.8 -0.1 7.9 -0.2 9.0 0.4 C10.1 1.0 11.2 1.0 11.8 -0.2" stroke-width="0.9"/>
</g>
<text x="667.9" y="463.1" font-size="17" text-anchor="middle" fill="#1c1c1c" letter-spacing="0.3"><tspan font-size="18.6" dy="0.55">(</tspan><tspan dy="-0.55">c</tspan><tspan font-size="18.6" dy="0.55">)</tspan></text>
<path d="M45.8 685.75 L45.83 684.21 L45.86 682.7 L45.89 681.22 L45.93 679.76 L45.96 678.33 L45.99 676.93 L46.02 675.56 L46.05 674.21 L46.08 672.88 L46.11 671.58 L46.15 670.3 L46.18 669.05 L46.21 667.81 L46.24 666.6 L46.27 665.41 L46.3 664.24 L46.33 663.09 L46.37 661.95 L46.4 660.84 L46.43 659.74 L46.46 658.67 L46.49 657.61 L46.52 656.56 L46.55 655.54 L46.59 654.53 L46.62 653.53 L46.65 652.55 L46.68 651.59 L46.71 650.64 L46.74 649.71 L46.78 648.79 L46.81 647.88 L46.84 646.99 L46.87 646.11 L46.9 645.24 L46.93 644.38 L46.96 643.54 L47 642.71 L47.03 641.89 L47.06 641.09 L47.09 640.29 L47.12 639.51 L47.15 638.73 L47.18 637.97 L47.22 637.22 L47.25 636.47 L47.28 635.74 L47.31 635.02 L47.34 634.31 L47.37 633.6 L47.4 632.91 L47.44 632.22 L47.47 631.55 L47.5 630.88 L47.53 630.22 L47.56 629.57 L47.59 628.93 L47.62 628.29 L47.66 627.66 L47.69 627.05 L47.72 626.43 L47.75 625.83 L47.78 625.23 L47.81 624.65 L47.84 624.06 L47.88 623.49 L47.91 622.92 L47.94 622.36 L47.97 621.8 L48 621.25 L48.03 620.71 L48.06 620.18 L48.1 619.65 L48.13 619.12 L48.16 618.6 L48.19 618.09 L48.22 617.58 L48.25 617.08 L48.29 616.59 L48.32 616.1 L48.35 615.61 L48.38 615.14 L48.41 614.66 L48.44 614.19 L48.47 613.73 L48.51 613.27 L48.54 612.82 L48.57 612.37 L48.6 611.92 L48.63 611.48 L48.66 611.05 L48.69 610.62 L48.73 610.19 L48.76 609.77 L48.79 609.35 L48.82 608.94 L48.85 608.53 L48.88 608.12 L48.91 607.72 L48.95 607.32 L48.98 606.93 L49.01 606.54 L49.04 606.16 L49.07 605.77 L49.1 605.4 L49.13 605.02 L49.17 604.65 L49.2 604.28 L49.23 603.92 L49.26 603.56 L49.29 603.2 L49.32 602.85 L49.35 602.5 L49.39 602.15 L49.42 601.81 L49.45 601.47 L49.48 601.13 L49.51 600.79 L49.54 600.46 L49.57 600.13 L49.61 599.81 L49.64 599.48 L49.67 599.16 L49.7 598.85 L49.73 598.53 L49.76 598.22 L49.8 597.91 L49.83 597.61 L49.86 597.3 L49.89 597 L49.92 596.7 L49.95 596.41 L49.98 596.12 L50.02 595.83 L50.05 595.54 L50.08 595.25 L50.11 594.97 L50.14 594.69 L50.17 594.41 L50.2 594.13 L50.24 593.86 L50.27 593.59 L50.3 593.32 L50.33 593.05 L50.36 592.78 L50.39 592.52 L50.42 592.26 L50.46 592 L50.49 591.74 L50.52 591.49 L50.55 591.24 L50.58 590.99 L50.61 590.74 L50.64 590.49 L50.68 590.25 L50.71 590 L50.74 589.76 L50.77 589.52 L50.8 589.29 L50.83 589.05 L50.86 588.82 L50.9 588.58 L50.93 588.35 L50.96 588.12 L50.99 587.9 L51.02 587.67 L51.05 587.45 L51.08 587.23 L51.12 587.01 L51.15 586.79 L51.18 586.57 L51.21 586.36 L51.24 586.14 L51.27 585.93 L51.31 585.72 L51.34 585.51 L51.37 585.3 L51.4 585.1 L51.43 584.89 L51.46 584.69 L51.49 584.49 L51.53 584.29 L51.56 584.09 L51.59 583.89 L51.62 583.69 L51.65 583.5 L51.68 583.31 L51.71 583.11 L51.75 582.92 L51.78 582.73 L51.81 582.54 L51.84 582.36 L51.87 582.17 L51.9 581.99 L51.93 581.8 L51.97 581.62 L52 581.44 L52.03 581.26 L52.06 581.08 L52.67 577.82 L53.29 574.94 L53.9 572.36 L54.52 570.06 L55.13 567.98 L55.75 566.09 L56.36 564.37 L56.98 562.8 L57.59 561.36 L58.21 560.03 L58.82 558.81 L59.44 557.67 L60.05 556.61 L60.67 555.62 L61.28 554.7 L61.9 553.84 L62.51 553.03 L63.12 552.27 L63.74 551.56 L64.35 550.88 L64.97 550.24 L65.58 549.64 L66.2 549.06 L66.81 548.52 L67.43 548 L68.04 547.51 L68.66 547.04 L69.27 546.6 L69.89 546.17 L70.5 545.76 L71.12 545.37 L71.73 545 L72.35 544.64 L72.96 544.29 L73.57 543.96 L74.19 543.65 L74.8 543.34 L75.42 543.05 L76.03 542.76 L76.65 542.49 L77.26 542.23 L77.88 541.97 L78.49 541.73 L79.11 541.49 L79.72 541.26 L80.34 541.04 L80.95 540.83 L81.57 540.62 L82.18 540.42 L82.8 540.22 L83.41 540.03 L84.02 539.85 L84.64 539.67 L85.25 539.5 L85.87 539.33 L86.48 539.17 L87.1 539.01 L87.71 538.85 L88.33 538.7 L88.94 538.55 L89.56 538.41 L90.17 538.27 L90.79 538.14 L91.4 538 L92.02 537.88 L92.63 537.75 L93.25 537.63 L93.86 537.51 L94.47 537.39 L95.09 537.28 L95.7 537.17 L96.32 537.06 L96.93 536.95 L97.55 536.85 L98.16 536.74 L98.78 536.65 L99.39 536.55 L100.01 536.45 L100.62 536.36 L101.24 536.27 L101.85 536.18 L102.47 536.09 L103.08 536.01 L103.7 535.92 L104.31 535.84 L104.93 535.76 L105.54 535.68 L106.15 535.6 L106.77 535.53 L107.38 535.45 L108 535.38 L108.61 535.31 L109.23 535.23 L109.84 535.17 L110.46 535.1 L111.07 535.03 L111.69 534.96 L112.3 534.9 L112.92 534.84 L113.53 534.77 L114.15 534.71 L114.76 534.65 L115.38 534.59 L115.99 534.54 L116.6 534.48 L117.22 534.42 L117.83 534.37 L118.45 534.31 L119.06 534.26 L119.68 534.21 L120.29 534.15 L120.91 534.1 L121.52 534.05 L122.14 534 L122.75 533.95 L123.37 533.91 L123.98 533.86 L124.6 533.81 L125.21 533.77 L125.83 533.72 L126.44 533.68 L127.05 533.63 L127.67 533.59 L128.28 533.55 L128.9 533.51 L129.51 533.46 L130.13 533.42 L130.74 533.38 L131.36 533.34 L131.97 533.3 L132.59 533.27 L133.2 533.23 L133.82 533.19 L134.43 533.15 L135.05 533.12 L135.66 533.08 L136.28 533.04 L136.89 533.01 L137.5 532.97 L138.12 532.94 L138.73 532.91 L139.35 532.87 L139.96 532.84 L140.58 532.81 L141.19 532.78 L141.81 532.74 L142.42 532.71 L143.04 532.68 L143.65 532.65 L144.27 532.62 L144.88 532.59 L145.5 532.56 L146.11 532.53 L146.73 532.5 L147.34 532.47 L147.95 532.45 L148.57 532.42 L149.18 532.39 L149.8 532.36 L150.41 532.34 L151.03 532.31 L151.64 532.28 L152.26 532.26 L152.87 532.23 L153.49 532.21 L154.1 532.18 L154.72 532.16 L155.33 532.13 L155.95 532.11 L156.56 532.08 L157.18 532.06 L157.79 532.04 L158.4 532.01 L159.02 531.99 L159.63 531.97 L160.25 531.95 L160.86 531.92 L161.48 531.9 L162.09 531.88 L162.71 531.86 L163.32 531.84 L163.94 531.82 L164.55 531.79 L165.17 531.77 L165.78 531.75 L166.4 531.73 L167.01 531.71 L167.63 531.69 L168.24 531.67 L168.85 531.65 L169.47 531.63 L170.08 531.61 L170.7 531.6 L171.31 531.58 L171.93 531.56 L172.54 531.54 L173.16 531.52 L173.77 531.5 L174.39 531.48 L175 531.47 L175.62 531.45 L176.23 531.43 L176.85 531.41 L177.46 531.4 L178.08 531.38 L178.69 531.36 L179.3 531.35 L179.92 531.33 L180.53 531.31 L181.15 531.3 L181.76 531.28 L182.38 531.27 L182.99 531.25 L183.61 531.23 L184.22 531.22 L184.84 531.2 L185.45 531.19 L186.07 531.17 L186.68 531.16 L187.3 531.14 L187.91 531.13 L188.53 531.11 L189.14 531.1 L189.75 531.08 L190.37 531.07 L190.98 531.06 L191.6 531.04 L192.21 531.03 L192.83 531.01 L193.44 531 L194.06 530.99 L194.67 530.97 L195.29 530.96 L195.9 530.95 L196.52 530.93 L197.13 530.92 L197.75 530.91 L198.36 530.89 L198.98 530.88 L199.59 530.87 L200.2 530.86 L200.82 530.84 L201.43 530.83 L202.05 530.82 L202.66 530.81 L203.28 530.8 L203.89 530.78 L204.51 530.77 L205.12 530.76 L205.74 530.75 L206.35 530.74 L206.97 530.72 L207.58 530.71 L208.2 530.7 L208.81 530.69 L209.43 530.68 L210.04 530.67 L210.66 530.66 L211.27 530.65 L211.88 530.64 L212.5 530.62 L213.11 530.61 L213.73 530.6 L214.34 530.59 L214.96 530.58 L215.57 530.57 L216.19 530.56 L216.8 530.55 L217.42 530.54 L218.03 530.53 L218.65 530.52 L219.26 530.51 L219.88 530.5 L220.49 530.49 L221.11 530.48 L221.72 530.47 L222.33 530.46 L222.95 530.45 L223.56 530.44 L224.18 530.43 L224.79 530.42 L225.41 530.41 L226.02 530.41 L226.64 530.4 L227.25 530.39 L227.87 530.38 L228.48 530.37 L229.1 530.36 L229.71 530.35 L230.33 530.34 L230.94 530.33 L231.56 530.32 L232.17 530.32 L232.78 530.31 L233.4 530.3 L234.01 530.29 L234.63 530.28 L235.24 530.27 L235.86 530.27 L236.47 530.26 L237.09 530.25 L237.7 530.24 L238.32 530.23 L238.93 530.22 L239.55 530.22 L240.16 530.21 L240.78 530.2 L241.39 530.19 L242.01 530.18 L242.62 530.18 L243.23 530.17 L243.85 530.16 L244.46 530.15 L245.08 530.15 L245.69 530.14 L246.31 530.13 L246.92 530.12 L247.54 530.12 L248.15 530.11 L248.77 530.1 L249.38 530.09 L250 530.09 L250.61 530.08 L251.23 530.07 L251.84 530.07 L252.46 530.06 L253.07 530.05 L253.68 530.04 L254.3 530.04 L254.91 530.03 L255.53 530.02 L256.14 530.02 L256.76 530.01 L257.37 530 L257.99 530 L258.6 529.99 L259.22 529.98 L259.83 529.98 L260.45 529.97 L261.06 529.96 L261.68 529.96 L262.29 529.95 L262.91 529.94 L263.52 529.94 L264.13 529.93 L264.75 529.93 L265.36 529.92 L265.98 529.91 L266.59 529.91 L267.21 529.9 L267.82 529.89 L268.44 529.89 L269.05 529.88 L269.67 529.88 L270.28 529.87 L270.9 529.86 L271.51 529.86 L272.13 529.85 L272.74 529.85 L273.36 529.84 L273.97 529.83 L274.58 529.83 L275.2 529.82 L275.81 529.82 L276.43 529.81 L277.04 529.81 L277.66 529.8 L278.27 529.79 L278.89 529.79 L279.5 529.78 L280.12 529.78 L280.73 529.77 L281.35 529.77 L281.96 529.76 L282.58 529.76 L283.19 529.75 L283.81 529.75 L284.42 529.74 L285.03 529.74 L285.65 529.73 L286.26 529.72 L286.88 529.72 L287.49 529.71 L288.11 529.71 L288.72 529.7 L289.34 529.7 L289.95 529.69 L290.57 529.69 L291.18 529.68 L291.8 529.68 L292.41 529.67 L293.03 529.67 L293.64 529.66 L294.26 529.66 L294.87 529.65 L295.48 529.65 L296.1 529.64 L296.71 529.64 L297.33 529.63 L297.94 529.63 L298.56 529.62 L299.17 529.62 L299.79 529.62 L300.4 529.61 L301.02 529.61 L301.63 529.6 L302.25 529.6 L302.86 529.59 L303.48 529.59 L304.09 529.58 L304.71 529.58 L305.32 529.57 L305.93 529.57 L306.55 529.57 L307.16 529.56 L307.78 529.56 L308.39 529.55 L309.01 529.55 L309.62 529.54 L310.24 529.54 L310.85 529.53 L311.47 529.53 L312.08 529.53 L312.7 529.52 L313.31 529.52 L313.93 529.51 L314.54 529.51 L315.16 529.5 L315.77 529.5 L316.39 529.5 L317 529.49 L317.61 529.49 L318.23 529.48 L318.84 529.48 L319.46 529.48 L320.07 529.47 L320.69 529.47 L321.3 529.46 L321.92 529.46 L322.53 529.46 L323.15 529.45 L323.76 529.45 L324.38 529.44 L324.99 529.44 L325.61 529.44 L326.22 529.43 L326.84 529.43 L327.45 529.42 L328.06 529.42 L328.68 529.42 L329.29 529.41 L329.91 529.41 L330.52 529.41 L331.14 529.4 L331.75 529.4 L332.37 529.39 L332.98 529.39 L333.6 529.39 L334.21 529.38 L334.83 529.38 L335.44 529.38 L336.06 529.37 L336.67 529.37 L337.29 529.37 L337.9 529.36 L338.51 529.36 L339.13 529.35 L339.74 529.35 L340.36 529.35 L340.97 529.34 L341.59 529.34 L342.2 529.34 L342.82 529.33 L343.43 529.33 L344.05 529.33 L344.66 529.32 L345.28 529.32 L345.89 529.32 L346.51 529.31 L347.12 529.31 L347.74 529.31 L348.35 529.3 L348.96 529.3 L349.58 529.3 L350.19 529.29 L350.81 529.29 L351.42 529.29 L352.04 529.28 L352.65 529.28 L353.27 529.28 L353.88 529.27 L354.5 529.27 L355.11 529.27 L355.73 529.26 L356.34 529.26 L356.96 529.26 L357.57 529.26 L358.19 529.25 L358.8 529.25" fill="none" stroke="#000" stroke-width="1.8" stroke-linejoin="round"/>
<path d="M45.8 685.75 L45.83 685.58 L45.86 685.37 L45.89 685.13 L45.93 684.89 L45.96 684.57 L45.99 684.17 L46.02 683.73 L46.05 683.26 L46.08 682.77 L46.11 682.27 L46.15 681.76 L46.18 681.25 L46.21 680.72 L46.24 680.19 L46.27 679.65 L46.3 679.12 L46.33 678.59 L46.37 678.02 L46.4 677.4 L46.43 676.76 L46.46 676.11 L46.49 675.45 L46.52 674.79 L46.55 674.12 L46.59 673.46 L46.62 672.78 L46.65 672.11 L46.68 671.44 L46.71 670.77 L46.74 670.11 L46.78 669.44 L46.81 668.79 L46.84 668.14 L46.87 667.49 L46.9 666.84 L46.93 666.19 L46.96 665.53 L47 664.88 L47.03 664.22 L47.06 663.56 L47.09 662.9 L47.12 662.25 L47.15 661.61 L47.18 660.97 L47.22 660.34 L47.25 659.72 L47.28 659.09 L47.31 658.48 L47.34 657.87 L47.37 657.26 L47.4 656.66 L47.44 656.06 L47.47 655.46 L47.5 654.86 L47.53 654.27 L47.56 653.68 L47.59 653.09 L47.62 652.51 L47.66 651.93 L47.69 651.34 L47.72 650.77 L47.75 650.2 L47.78 649.64 L47.81 649.08 L47.84 648.53 L47.88 647.98 L47.91 647.44 L47.94 646.9 L47.97 646.36 L48 645.83 L48.03 645.31 L48.06 644.78 L48.1 644.26 L48.13 643.74 L48.16 643.22 L48.19 642.7 L48.22 642.17 L48.25 641.65 L48.29 641.13 L48.32 640.62 L48.35 640.12 L48.38 639.62 L48.41 639.13 L48.44 638.64 L48.47 638.15 L48.51 637.67 L48.54 637.2 L48.57 636.73 L48.6 636.26 L48.63 635.8 L48.66 635.35 L48.69 634.89 L48.73 634.44 L48.76 634 L48.79 633.56 L48.82 633.12 L48.85 632.68 L48.88 632.25 L48.91 631.82 L48.95 631.4 L48.98 630.97 L49.01 630.55 L49.04 630.14 L49.07 629.72 L49.1 629.31 L49.13 628.9 L49.17 628.5 L49.2 628.09 L49.23 627.69 L49.26 627.29 L49.29 626.9 L49.32 626.51 L49.35 626.12 L49.39 625.73 L49.42 625.34 L49.45 624.96 L49.48 624.58 L49.51 624.2 L49.54 623.83 L49.57 623.46 L49.61 623.09 L49.64 622.72 L49.67 622.36 L49.7 621.99 L49.73 621.63 L49.76 621.28 L49.8 620.92 L49.83 620.57 L49.86 620.22 L49.89 619.87 L49.92 619.53 L49.95 619.19 L49.98 618.84 L50.02 618.51 L50.05 618.17 L50.08 617.84 L50.11 617.51 L50.14 617.18 L50.17 616.85 L50.2 616.53 L50.24 616.2 L50.27 615.88 L50.3 615.57 L50.33 615.25 L50.36 614.94 L50.39 614.63 L50.42 614.32 L50.46 614.01 L50.49 613.7 L50.52 613.4 L50.55 613.1 L50.58 612.8 L50.61 612.5 L50.64 612.21 L50.68 611.92 L50.71 611.63 L50.74 611.34 L50.77 611.05 L50.8 610.77 L50.83 610.48 L50.86 610.2 L50.9 609.92 L50.93 609.65 L50.96 609.37 L50.99 609.1 L51.02 608.83 L51.05 608.56 L51.08 608.29 L51.12 608.02 L51.15 607.76 L51.18 607.5 L51.21 607.24 L51.24 606.98 L51.27 606.72 L51.31 606.46 L51.34 606.21 L51.37 605.96 L51.4 605.71 L51.43 605.46 L51.46 605.21 L51.49 604.97 L51.53 604.72 L51.56 604.48 L51.59 604.24 L51.62 604 L51.65 603.77 L51.68 603.53 L51.71 603.3 L51.75 603.06 L51.78 602.83 L51.81 602.6 L51.84 602.38 L51.87 602.15 L51.9 601.92 L51.93 601.7 L51.97 601.48 L52 601.26 L52.03 601.04 L52.06 600.82 L52.67 596.77 L53.29 593.08 L53.9 589.73 L54.52 586.71 L55.13 584 L55.75 581.55 L56.36 579.3 L56.98 577.24 L57.59 575.34 L58.21 573.57 L58.82 571.94 L59.44 570.42 L60.05 569 L60.67 567.67 L61.28 566.43 L61.9 565.27 L62.51 564.17 L63.12 563.13 L63.74 562.14 L64.35 561.21 L64.97 560.32 L65.58 559.48 L66.2 558.67 L66.81 557.91 L67.43 557.18 L68.04 556.48 L68.66 555.82 L69.27 555.18 L69.89 554.57 L70.5 553.98 L71.12 553.42 L71.73 552.88 L72.35 552.36 L72.96 551.86 L73.57 551.38 L74.19 550.92 L74.8 550.48 L75.42 550.05 L76.03 549.63 L76.65 549.24 L77.26 548.85 L77.88 548.48 L78.49 548.12 L79.11 547.77 L79.72 547.43 L80.34 547.1 L80.95 546.78 L81.57 546.47 L82.18 546.17 L82.8 545.88 L83.41 545.59 L84.02 545.32 L84.64 545.05 L85.25 544.79 L85.87 544.54 L86.48 544.29 L87.1 544.06 L87.71 543.82 L88.33 543.6 L88.94 543.38 L89.56 543.17 L90.17 542.96 L90.79 542.76 L91.4 542.57 L92.02 542.38 L92.63 542.2 L93.25 542.02 L93.86 541.84 L94.47 541.68 L95.09 541.51 L95.7 541.35 L96.32 541.19 L96.93 541.04 L97.55 540.89 L98.16 540.74 L98.78 540.6 L99.39 540.46 L100.01 540.32 L100.62 540.19 L101.24 540.05 L101.85 539.93 L102.47 539.8 L103.08 539.68 L103.7 539.56 L104.31 539.44 L104.93 539.33 L105.54 539.22 L106.15 539.11 L106.77 539 L107.38 538.89 L108 538.79 L108.61 538.69 L109.23 538.59 L109.84 538.49 L110.46 538.4 L111.07 538.3 L111.69 538.21 L112.3 538.12 L112.92 538.03 L113.53 537.94 L114.15 537.86 L114.76 537.77 L115.38 537.69 L115.99 537.61 L116.6 537.53 L117.22 537.45 L117.83 537.37 L118.45 537.29 L119.06 537.22 L119.68 537.14 L120.29 537.07 L120.91 537 L121.52 536.93 L122.14 536.86 L122.75 536.79 L123.37 536.72 L123.98 536.66 L124.6 536.59 L125.21 536.53 L125.83 536.46 L126.44 536.4 L127.05 536.34 L127.67 536.28 L128.28 536.22 L128.9 536.16 L129.51 536.1 L130.13 536.05 L130.74 535.99 L131.36 535.93 L131.97 535.88 L132.59 535.82 L133.2 535.77 L133.82 535.72 L134.43 535.67 L135.05 535.62 L135.66 535.57 L136.28 535.52 L136.89 535.47 L137.5 535.42 L138.12 535.37 L138.73 535.32 L139.35 535.28 L139.96 535.23 L140.58 535.18 L141.19 535.14 L141.81 535.1 L142.42 535.05 L143.04 535.01 L143.65 534.96 L144.27 534.92 L144.88 534.88 L145.5 534.84 L146.11 534.8 L146.73 534.76 L147.34 534.72 L147.95 534.68 L148.57 534.64 L149.18 534.6 L149.8 534.56 L150.41 534.52 L151.03 534.48 L151.64 534.45 L152.26 534.41 L152.87 534.37 L153.49 534.34 L154.1 534.3 L154.72 534.27 L155.33 534.23 L155.95 534.2 L156.56 534.16 L157.18 534.13 L157.79 534.1 L158.4 534.06 L159.02 534.03 L159.63 534 L160.25 533.96 L160.86 533.93 L161.48 533.9 L162.09 533.87 L162.71 533.84 L163.32 533.81 L163.94 533.78 L164.55 533.75 L165.17 533.72 L165.78 533.69 L166.4 533.66 L167.01 533.63 L167.63 533.6 L168.24 533.57 L168.85 533.55 L169.47 533.52 L170.08 533.49 L170.7 533.46 L171.31 533.44 L171.93 533.41 L172.54 533.38 L173.16 533.36 L173.77 533.33 L174.39 533.31 L175 533.28 L175.62 533.26 L176.23 533.23 L176.85 533.21 L177.46 533.18 L178.08 533.16 L178.69 533.13 L179.3 533.11 L179.92 533.09 L180.53 533.06 L181.15 533.04 L181.76 533.02 L182.38 533 L182.99 532.97 L183.61 532.95 L184.22 532.93 L184.84 532.91 L185.45 532.89 L186.07 532.86 L186.68 532.84 L187.3 532.82 L187.91 532.8 L188.53 532.78 L189.14 532.76 L189.75 532.74 L190.37 532.72 L190.98 532.7 L191.6 532.68 L192.21 532.66 L192.83 532.64 L193.44 532.62 L194.06 532.6 L194.67 532.59 L195.29 532.57 L195.9 532.55 L196.52 532.53 L197.13 532.51 L197.75 532.49 L198.36 532.48 L198.98 532.46 L199.59 532.44 L200.2 532.42 L200.82 532.41 L201.43 532.39 L202.05 532.37 L202.66 532.36 L203.28 532.34 L203.89 532.32 L204.51 532.31 L205.12 532.29 L205.74 532.28 L206.35 532.26 L206.97 532.24 L207.58 532.23 L208.2 532.21 L208.81 532.2 L209.43 532.18 L210.04 532.17 L210.66 532.15 L211.27 532.14 L211.88 532.12 L212.5 532.11 L213.11 532.09 L213.73 532.08 L214.34 532.06 L214.96 532.05 L215.57 532.03 L216.19 532.02 L216.8 532.01 L217.42 531.99 L218.03 531.98 L218.65 531.96 L219.26 531.95 L219.88 531.94 L220.49 531.92 L221.11 531.91 L221.72 531.9 L222.33 531.88 L222.95 531.87 L223.56 531.86 L224.18 531.84 L224.79 531.83 L225.41 531.82 L226.02 531.8 L226.64 531.79 L227.25 531.78 L227.87 531.77 L228.48 531.75 L229.1 531.74 L229.71 531.73 L230.33 531.72 L230.94 531.7 L231.56 531.69 L232.17 531.68 L232.78 531.67 L233.4 531.66 L234.01 531.64 L234.63 531.63 L235.24 531.62 L235.86 531.61 L236.47 531.6 L237.09 531.59 L237.7 531.57 L238.32 531.56 L238.93 531.55 L239.55 531.54 L240.16 531.53 L240.78 531.52 L241.39 531.51 L242.01 531.5 L242.62 531.48 L243.23 531.47 L243.85 531.46 L244.46 531.45 L245.08 531.44 L245.69 531.43 L246.31 531.42 L246.92 531.41 L247.54 531.4 L248.15 531.39 L248.77 531.38 L249.38 531.37 L250 531.36 L250.61 531.35 L251.23 531.34 L251.84 531.33 L252.46 531.32 L253.07 531.31 L253.68 531.3 L254.3 531.29 L254.91 531.28 L255.53 531.27 L256.14 531.26 L256.76 531.25 L257.37 531.24 L257.99 531.23 L258.6 531.22 L259.22 531.21 L259.83 531.2 L260.45 531.2 L261.06 531.19 L261.68 531.18 L262.29 531.17 L262.91 531.16 L263.52 531.15 L264.13 531.14 L264.75 531.13 L265.36 531.12 L265.98 531.12 L266.59 531.11 L267.21 531.1 L267.82 531.09 L268.44 531.08 L269.05 531.07 L269.67 531.06 L270.28 531.06 L270.9 531.05 L271.51 531.04 L272.13 531.03 L272.74 531.02 L273.36 531.01 L273.97 531.01 L274.58 531 L275.2 530.99 L275.81 530.98 L276.43 530.97 L277.04 530.97 L277.66 530.96 L278.27 530.95 L278.89 530.94 L279.5 530.94 L280.12 530.93 L280.73 530.92 L281.35 530.91 L281.96 530.91 L282.58 530.9 L283.19 530.89 L283.81 530.88 L284.42 530.88 L285.03 530.87 L285.65 530.86 L286.26 530.85 L286.88 530.85 L287.49 530.84 L288.11 530.83 L288.72 530.83 L289.34 530.82 L289.95 530.81 L290.57 530.8 L291.18 530.8 L291.8 530.79 L292.41 530.78 L293.03 530.78 L293.64 530.77 L294.26 530.76 L294.87 530.76 L295.48 530.75 L296.1 530.74 L296.71 530.74 L297.33 530.73 L297.94 530.72 L298.56 530.72 L299.17 530.71 L299.79 530.7 L300.4 530.7 L301.02 530.69 L301.63 530.68 L302.25 530.68 L302.86 530.67 L303.48 530.67 L304.09 530.66 L304.71 530.65 L305.32 530.65 L305.93 530.64 L306.55 530.64 L307.16 530.63 L307.78 530.62 L308.39 530.62 L309.01 530.61 L309.62 530.61 L310.24 530.6 L310.85 530.59 L311.47 530.59 L312.08 530.58 L312.7 530.58 L313.31 530.57 L313.93 530.57 L314.54 530.56 L315.16 530.55 L315.77 530.55 L316.39 530.54 L317 530.54 L317.61 530.53 L318.23 530.53 L318.84 530.52 L319.46 530.52 L320.07 530.51 L320.69 530.51 L321.3 530.5 L321.92 530.49 L322.53 530.49 L323.15 530.48 L323.76 530.48 L324.38 530.47 L324.99 530.47 L325.61 530.46 L326.22 530.46 L326.84 530.45 L327.45 530.45 L328.06 530.44 L328.68 530.44 L329.29 530.43 L329.91 530.43 L330.52 530.42 L331.14 530.42 L331.75 530.41 L332.37 530.41 L332.98 530.4 L333.6 530.4 L334.21 530.39 L334.83 530.39 L335.44 530.39 L336.06 530.38 L336.67 530.38 L337.29 530.37 L337.9 530.37 L338.51 530.36 L339.13 530.36 L339.74 530.35 L340.36 530.35 L340.97 530.34 L341.59 530.34 L342.2 530.34 L342.82 530.33 L343.43 530.33 L344.05 530.32 L344.66 530.32 L345.28 530.31 L345.89 530.31 L346.51 530.31 L347.12 530.3 L347.74 530.3 L348.35 530.29 L348.96 530.29 L349.58 530.28 L350.19 530.28 L350.81 530.28 L351.42 530.27 L352.04 530.27 L352.65 530.26 L353.27 530.26 L353.88 530.26 L354.5 530.25 L355.11 530.25 L355.73 530.24 L356.34 530.24 L356.96 530.24 L357.57 530.23 L358.19 530.23 L358.8 530.22" fill="none" stroke="#ff0000" stroke-width="1.8" stroke-dasharray="4.5 1.5" stroke-linejoin="round"/>
<path d="M45.8 685.75 L45.83 684.38 L45.86 683.08 L45.89 681.83 L45.93 680.62 L45.96 679.51 L45.99 678.51 L46.02 677.58 L46.05 676.7 L46.08 675.87 L46.11 675.06 L46.15 674.29 L46.18 673.55 L46.21 672.84 L46.24 672.16 L46.27 671.51 L46.3 670.86 L46.33 670.25 L46.37 669.68 L46.4 669.19 L46.43 668.74 L46.46 668.31 L46.49 667.91 L46.52 667.52 L46.55 667.16 L46.59 666.82 L46.62 666.5 L46.65 666.19 L46.68 665.9 L46.71 665.62 L46.74 665.35 L46.78 665.09 L46.81 664.84 L46.84 664.6 L46.87 664.37 L46.9 664.15 L46.93 663.95 L46.96 663.76 L47 663.58 L47.03 663.42 L47.06 663.28 L47.09 663.14 L47.12 663 L47.15 662.87 L47.18 662.75 L47.22 662.63 L47.25 662.51 L47.28 662.4 L47.31 662.29 L47.34 662.19 L47.37 662.09 L47.4 662 L47.44 661.92 L47.47 661.84 L47.5 661.77 L47.53 661.7 L47.56 661.64 L47.59 661.58 L47.62 661.53 L47.66 661.49 L47.69 661.45 L47.72 661.42 L47.75 661.38 L47.78 661.35 L47.81 661.32 L47.84 661.29 L47.88 661.26 L47.91 661.23 L47.94 661.21 L47.97 661.19 L48 661.17 L48.03 661.15 L48.06 661.14 L48.1 661.14 L48.13 661.13 L48.16 661.13 L48.19 661.14 L48.22 661.16 L48.25 661.18 L48.29 661.21 L48.32 661.23 L48.35 661.25 L48.38 661.27 L48.41 661.29 L48.44 661.31 L48.47 661.33 L48.51 661.35 L48.54 661.37 L48.57 661.39 L48.6 661.41 L48.63 661.43 L48.66 661.45 L48.69 661.47 L48.73 661.5 L48.76 661.52 L48.79 661.54 L48.82 661.57 L48.85 661.6 L48.88 661.62 L48.91 661.65 L48.95 661.68 L48.98 661.71 L49.01 661.74 L49.04 661.77 L49.07 661.8 L49.1 661.83 L49.13 661.87 L49.17 661.9 L49.2 661.94 L49.23 661.98 L49.26 662.01 L49.29 662.05 L49.32 662.09 L49.35 662.13 L49.39 662.17 L49.42 662.21 L49.45 662.25 L49.48 662.3 L49.51 662.34 L49.54 662.38 L49.57 662.43 L49.61 662.47 L49.64 662.51 L49.67 662.56 L49.7 662.6 L49.73 662.65 L49.76 662.69 L49.8 662.74 L49.83 662.79 L49.86 662.83 L49.89 662.88 L49.92 662.93 L49.95 662.97 L49.98 663.02 L50.02 663.07 L50.05 663.12 L50.08 663.16 L50.11 663.21 L50.14 663.26 L50.17 663.31 L50.2 663.36 L50.24 663.4 L50.27 663.45 L50.3 663.5 L50.33 663.55 L50.36 663.6 L50.39 663.65 L50.42 663.69 L50.46 663.74 L50.49 663.79 L50.52 663.84 L50.55 663.89 L50.58 663.93 L50.61 663.98 L50.64 664.03 L50.68 664.08 L50.71 664.13 L50.74 664.17 L50.77 664.22 L50.8 664.27 L50.83 664.32 L50.86 664.36 L50.9 664.41 L50.93 664.46 L50.96 664.5 L50.99 664.55 L51.02 664.6 L51.05 664.64 L51.08 664.69 L51.12 664.73 L51.15 664.78 L51.18 664.83 L51.21 664.87 L51.24 664.92 L51.27 664.96 L51.31 665.01 L51.34 665.05 L51.37 665.09 L51.4 665.14 L51.43 665.18 L51.46 665.23 L51.49 665.27 L51.53 665.31 L51.56 665.36 L51.59 665.4 L51.62 665.44 L51.65 665.48 L51.68 665.52 L51.71 665.57 L51.75 665.61 L51.78 665.65 L51.81 665.69 L51.84 665.73 L51.87 665.77 L51.9 665.81 L51.93 665.85 L51.97 665.89 L52 665.93 L52.03 665.97 L52.06 666.01 L52.67 666.8 L53.29 667.61 L53.9 668.38 L54.52 669.09 L55.13 669.73 L55.75 670.29 L56.36 670.82 L56.98 671.31 L57.59 671.77 L58.21 672.21 L58.82 672.62 L59.44 673 L60.05 673.36 L60.67 673.7 L61.28 674.02 L61.9 674.32 L62.51 674.62 L63.12 674.9 L63.74 675.17 L64.35 675.42 L64.97 675.67 L65.58 675.91 L66.2 676.14 L66.81 676.36 L67.43 676.58 L68.04 676.78 L68.66 676.98 L69.27 677.17 L69.89 677.35 L70.5 677.53 L71.12 677.7 L71.73 677.87 L72.35 678.03 L72.96 678.18 L73.57 678.33 L74.19 678.48 L74.8 678.62 L75.42 678.75 L76.03 678.88 L76.65 679.01 L77.26 679.13 L77.88 679.25 L78.49 679.36 L79.11 679.48 L79.72 679.59 L80.34 679.69 L80.95 679.8 L81.57 679.9 L82.18 680 L82.8 680.1 L83.41 680.19 L84.02 680.28 L84.64 680.37 L85.25 680.46 L85.87 680.54 L86.48 680.62 L87.1 680.7 L87.71 680.78 L88.33 680.85 L88.94 680.92 L89.56 680.99 L90.17 681.06 L90.79 681.12 L91.4 681.18 L92.02 681.25 L92.63 681.3 L93.25 681.36 L93.86 681.41 L94.47 681.47 L95.09 681.52 L95.7 681.57 L96.32 681.62 L96.93 681.66 L97.55 681.71 L98.16 681.76 L98.78 681.8 L99.39 681.84 L100.01 681.88 L100.62 681.92 L101.24 681.96 L101.85 682 L102.47 682.04 L103.08 682.08 L103.7 682.11 L104.31 682.15 L104.93 682.18 L105.54 682.21 L106.15 682.25 L106.77 682.28 L107.38 682.31 L108 682.34 L108.61 682.37 L109.23 682.4 L109.84 682.42 L110.46 682.45 L111.07 682.48 L111.69 682.5 L112.3 682.53 L112.92 682.56 L113.53 682.58 L114.15 682.61 L114.76 682.63 L115.38 682.66 L115.99 682.68 L116.6 682.7 L117.22 682.72 L117.83 682.75 L118.45 682.77 L119.06 682.79 L119.68 682.81 L120.29 682.83 L120.91 682.85 L121.52 682.87 L122.14 682.89 L122.75 682.91 L123.37 682.93 L123.98 682.95 L124.6 682.97 L125.21 682.99 L125.83 683.01 L126.44 683.03 L127.05 683.04 L127.67 683.06 L128.28 683.08 L128.9 683.09 L129.51 683.11 L130.13 683.13 L130.74 683.14 L131.36 683.16 L131.97 683.18 L132.59 683.19 L133.2 683.21 L133.82 683.22 L134.43 683.24 L135.05 683.25 L135.66 683.26 L136.28 683.28 L136.89 683.29 L137.5 683.31 L138.12 683.32 L138.73 683.33 L139.35 683.35 L139.96 683.36 L140.58 683.37 L141.19 683.39 L141.81 683.4 L142.42 683.41 L143.04 683.42 L143.65 683.44 L144.27 683.45 L144.88 683.46 L145.5 683.47 L146.11 683.48 L146.73 683.5 L147.34 683.51 L147.95 683.52 L148.57 683.53 L149.18 683.54 L149.8 683.55 L150.41 683.57 L151.03 683.58 L151.64 683.59 L152.26 683.6 L152.87 683.61 L153.49 683.62 L154.1 683.63 L154.72 683.64 L155.33 683.65 L155.95 683.66 L156.56 683.67 L157.18 683.68 L157.79 683.69 L158.4 683.7 L159.02 683.71 L159.63 683.72 L160.25 683.73 L160.86 683.74 L161.48 683.75 L162.09 683.76 L162.71 683.77 L163.32 683.78 L163.94 683.79 L164.55 683.8 L165.17 683.8 L165.78 683.81 L166.4 683.82 L167.01 683.83 L167.63 683.84 L168.24 683.85 L168.85 683.86 L169.47 683.86 L170.08 683.87 L170.7 683.88 L171.31 683.89 L171.93 683.9 L172.54 683.91 L173.16 683.91 L173.77 683.92 L174.39 683.93 L175 683.94 L175.62 683.94 L176.23 683.95 L176.85 683.96 L177.46 683.97 L178.08 683.97 L178.69 683.98 L179.3 683.99 L179.92 683.99 L180.53 684 L181.15 684.01 L181.76 684.01 L182.38 684.02 L182.99 684.03 L183.61 684.03 L184.22 684.04 L184.84 684.05 L185.45 684.05 L186.07 684.06 L186.68 684.06 L187.3 684.07 L187.91 684.08 L188.53 684.08 L189.14 684.09 L189.75 684.09 L190.37 684.1 L190.98 684.11 L191.6 684.11 L192.21 684.12 L192.83 684.12 L193.44 684.13 L194.06 684.13 L194.67 684.14 L195.29 684.14 L195.9 684.15 L196.52 684.15 L197.13 684.16 L197.75 684.16 L198.36 684.17 L198.98 684.17 L199.59 684.18 L200.2 684.18 L200.82 684.19 L201.43 684.19 L202.05 684.2 L202.66 684.2 L203.28 684.2 L203.89 684.21 L204.51 684.21 L205.12 684.22 L205.74 684.22 L206.35 684.23 L206.97 684.23 L207.58 684.23 L208.2 684.24 L208.81 684.24 L209.43 684.25 L210.04 684.25 L210.66 684.26 L211.27 684.26 L211.88 684.26 L212.5 684.27 L213.11 684.27 L213.73 684.28 L214.34 684.28 L214.96 684.28 L215.57 684.29 L216.19 684.29 L216.8 684.3 L217.42 684.3 L218.03 684.3 L218.65 684.31 L219.26 684.31 L219.88 684.31 L220.49 684.32 L221.11 684.32 L221.72 684.33 L222.33 684.33 L222.95 684.33 L223.56 684.34 L224.18 684.34 L224.79 684.34 L225.41 684.35 L226.02 684.35 L226.64 684.36 L227.25 684.36 L227.87 684.36 L228.48 684.37 L229.1 684.37 L229.71 684.37 L230.33 684.38 L230.94 684.38 L231.56 684.38 L232.17 684.39 L232.78 684.39 L233.4 684.39 L234.01 684.4 L234.63 684.4 L235.24 684.4 L235.86 684.41 L236.47 684.41 L237.09 684.41 L237.7 684.42 L238.32 684.42 L238.93 684.42 L239.55 684.43 L240.16 684.43 L240.78 684.43 L241.39 684.44 L242.01 684.44 L242.62 684.44 L243.23 684.45 L243.85 684.45 L244.46 684.45 L245.08 684.45 L245.69 684.46 L246.31 684.46 L246.92 684.46 L247.54 684.47 L248.15 684.47 L248.77 684.47 L249.38 684.48 L250 684.48 L250.61 684.48 L251.23 684.48 L251.84 684.49 L252.46 684.49 L253.07 684.49 L253.68 684.5 L254.3 684.5 L254.91 684.5 L255.53 684.5 L256.14 684.51 L256.76 684.51 L257.37 684.51 L257.99 684.51 L258.6 684.52 L259.22 684.52 L259.83 684.52 L260.45 684.52 L261.06 684.53 L261.68 684.53 L262.29 684.53 L262.91 684.54 L263.52 684.54 L264.13 684.54 L264.75 684.54 L265.36 684.55 L265.98 684.55 L266.59 684.55 L267.21 684.55 L267.82 684.55 L268.44 684.56 L269.05 684.56 L269.67 684.56 L270.28 684.56 L270.9 684.57 L271.51 684.57 L272.13 684.57 L272.74 684.57 L273.36 684.58 L273.97 684.58 L274.58 684.58 L275.2 684.58 L275.81 684.59 L276.43 684.59 L277.04 684.59 L277.66 684.59 L278.27 684.59 L278.89 684.6 L279.5 684.6 L280.12 684.6 L280.73 684.6 L281.35 684.6 L281.96 684.61 L282.58 684.61 L283.19 684.61 L283.81 684.61 L284.42 684.61 L285.03 684.62 L285.65 684.62 L286.26 684.62 L286.88 684.62 L287.49 684.62 L288.11 684.63 L288.72 684.63 L289.34 684.63 L289.95 684.63 L290.57 684.63 L291.18 684.64 L291.8 684.64 L292.41 684.64 L293.03 684.64 L293.64 684.64 L294.26 684.65 L294.87 684.65 L295.48 684.65 L296.1 684.65 L296.71 684.65 L297.33 684.65 L297.94 684.66 L298.56 684.66 L299.17 684.66 L299.79 684.66 L300.4 684.66 L301.02 684.66 L301.63 684.67 L302.25 684.67 L302.86 684.67 L303.48 684.67 L304.09 684.67 L304.71 684.67 L305.32 684.68 L305.93 684.68 L306.55 684.68 L307.16 684.68 L307.78 684.68 L308.39 684.68 L309.01 684.69 L309.62 684.69 L310.24 684.69 L310.85 684.69 L311.47 684.69 L312.08 684.69 L312.7 684.69 L313.31 684.7 L313.93 684.7 L314.54 684.7 L315.16 684.7 L315.77 684.7 L316.39 684.7 L317 684.7 L317.61 684.71 L318.23 684.71 L318.84 684.71 L319.46 684.71 L320.07 684.71 L320.69 684.71 L321.3 684.71 L321.92 684.72 L322.53 684.72 L323.15 684.72 L323.76 684.72 L324.38 684.72 L324.99 684.72 L325.61 684.72 L326.22 684.72 L326.84 684.73 L327.45 684.73 L328.06 684.73 L328.68 684.73 L329.29 684.73 L329.91 684.73 L330.52 684.73 L331.14 684.73 L331.75 684.73 L332.37 684.74 L332.98 684.74 L333.6 684.74 L334.21 684.74 L334.83 684.74 L335.44 684.74 L336.06 684.74 L336.67 684.74 L337.29 684.74 L337.9 684.74 L338.51 684.75 L339.13 684.75 L339.74 684.75 L340.36 684.75 L340.97 684.75 L341.59 684.75 L342.2 684.75 L342.82 684.75 L343.43 684.75 L344.05 684.75 L344.66 684.76 L345.28 684.76 L345.89 684.76 L346.51 684.76 L347.12 684.76 L347.74 684.76 L348.35 684.76 L348.96 684.76 L349.58 684.76 L350.19 684.76 L350.81 684.76 L351.42 684.77 L352.04 684.77 L352.65 684.77 L353.27 684.77 L353.88 684.77 L354.5 684.77 L355.11 684.77 L355.73 684.77 L356.34 684.77" fill="none" stroke="#0000ff" stroke-width="1.8" stroke-dasharray="2.3 1.5" stroke-linejoin="round"/>
<line x1="39" y1="685.75" x2="365.2" y2="685.75" stroke="#000" stroke-width="1.6" />
<line x1="45.8" y1="526" x2="45.8" y2="688.9" stroke="#000" stroke-width="1.6" />
<line x1="45.8" y1="685.75" x2="49" y2="685.75" stroke="#000" stroke-width="1.3" />
<line x1="45.8" y1="681.31" x2="47.8" y2="681.31" stroke="#000" stroke-width="1.3" />
<line x1="45.8" y1="676.88" x2="47.8" y2="676.88" stroke="#000" stroke-width="1.3" />
<line x1="45.8" y1="672.44" x2="47.8" y2="672.44" stroke="#000" stroke-width="1.3" />
<line x1="45.8" y1="668.01" x2="47.8" y2="668.01" stroke="#000" stroke-width="1.3" />
<line x1="45.8" y1="663.57" x2="49" y2="663.57" stroke="#000" stroke-width="1.3" />
<text x="42.6" y="669.87" font-size="17.9" text-anchor="end" fill="#000" >0.01</text>
<line x1="45.8" y1="659.13" x2="47.8" y2="659.13" stroke="#000" stroke-width="1.3" />
<line x1="45.8" y1="654.7" x2="47.8" y2="654.7" stroke="#000" stroke-width="1.3" />
<line x1="45.8" y1="650.26" x2="47.8" y2="650.26" stroke="#000" stroke-width="1.3" />
<line x1="45.8" y1="645.83" x2="47.8" y2="645.83" stroke="#000" stroke-width="1.3" />
<line x1="45.8" y1="641.39" x2="49" y2="641.39" stroke="#000" stroke-width="1.3" />
<text x="42.6" y="647.69" font-size="17.9" text-anchor="end" fill="#000" >0.02</text>
<line x1="45.8" y1="636.95" x2="47.8" y2="636.95" stroke="#000" stroke-width="1.3" />
<line x1="45.8" y1="632.52" x2="47.8" y2="632.52" stroke="#000" stroke-width="1.3" />
<line x1="45.8" y1="628.08" x2="47.8" y2="628.08" stroke="#000" stroke-width="1.3" />
<line x1="45.8" y1="623.65" x2="47.8" y2="623.65" stroke="#000" stroke-width="1.3" />
<line x1="45.8" y1="619.21" x2="49" y2="619.21" stroke="#000" stroke-width="1.3" />
<text x="42.6" y="625.51" font-size="17.9" text-anchor="end" fill="#000" >0.03</text>
<line x1="45.8" y1="614.77" x2="47.8" y2="614.77" stroke="#000" stroke-width="1.3" />
<line x1="45.8" y1="610.34" x2="47.8" y2="610.34" stroke="#000" stroke-width="1.3" />
<line x1="45.8" y1="605.9" x2="47.8" y2="605.9" stroke="#000" stroke-width="1.3" />
<line x1="45.8" y1="601.47" x2="47.8" y2="601.47" stroke="#000" stroke-width="1.3" />
<line x1="45.8" y1="597.03" x2="49" y2="597.03" stroke="#000" stroke-width="1.3" />
<text x="42.6" y="603.33" font-size="17.9" text-anchor="end" fill="#000" >0.04</text>
<line x1="45.8" y1="592.59" x2="47.8" y2="592.59" stroke="#000" stroke-width="1.3" />
<line x1="45.8" y1="588.16" x2="47.8" y2="588.16" stroke="#000" stroke-width="1.3" />
<line x1="45.8" y1="583.72" x2="47.8" y2="583.72" stroke="#000" stroke-width="1.3" />
<line x1="45.8" y1="579.29" x2="47.8" y2="579.29" stroke="#000" stroke-width="1.3" />
<line x1="45.8" y1="574.85" x2="49" y2="574.85" stroke="#000" stroke-width="1.3" />
<text x="42.6" y="581.15" font-size="17.9" text-anchor="end" fill="#000" >0.05</text>
<line x1="45.8" y1="570.41" x2="47.8" y2="570.41" stroke="#000" stroke-width="1.3" />
<line x1="45.8" y1="565.98" x2="47.8" y2="565.98" stroke="#000" stroke-width="1.3" />
<line x1="45.8" y1="561.54" x2="47.8" y2="561.54" stroke="#000" stroke-width="1.3" />
<line x1="45.8" y1="557.11" x2="47.8" y2="557.11" stroke="#000" stroke-width="1.3" />
<line x1="45.8" y1="552.67" x2="49" y2="552.67" stroke="#000" stroke-width="1.3" />
<text x="42.6" y="558.97" font-size="17.9" text-anchor="end" fill="#000" >0.06</text>
<line x1="45.8" y1="548.23" x2="47.8" y2="548.23" stroke="#000" stroke-width="1.3" />
<line x1="45.8" y1="543.8" x2="47.8" y2="543.8" stroke="#000" stroke-width="1.3" />
<line x1="45.8" y1="539.36" x2="47.8" y2="539.36" stroke="#000" stroke-width="1.3" />
<line x1="45.8" y1="534.93" x2="47.8" y2="534.93" stroke="#000" stroke-width="1.3" />
<line x1="45.8" y1="530.49" x2="49" y2="530.49" stroke="#000" stroke-width="1.3" />
<text x="42.6" y="536.79" font-size="17.9" text-anchor="end" fill="#000" >0.07</text>
<line x1="61.45" y1="685.75" x2="61.45" y2="683.75" stroke="#000" stroke-width="1.3" />
<line x1="77.1" y1="685.75" x2="77.1" y2="683.75" stroke="#000" stroke-width="1.3" />
<line x1="92.75" y1="685.75" x2="92.75" y2="683.75" stroke="#000" stroke-width="1.3" />
<line x1="108.4" y1="685.75" x2="108.4" y2="682.55" stroke="#000" stroke-width="1.3" />
<text x="108.4" y="703.9" font-size="17.9" text-anchor="middle" fill="#000" >20</text>
<line x1="124.05" y1="685.75" x2="124.05" y2="683.75" stroke="#000" stroke-width="1.3" />
<line x1="139.7" y1="685.75" x2="139.7" y2="683.75" stroke="#000" stroke-width="1.3" />
<line x1="155.35" y1="685.75" x2="155.35" y2="683.75" stroke="#000" stroke-width="1.3" />
<line x1="171" y1="685.75" x2="171" y2="682.55" stroke="#000" stroke-width="1.3" />
<text x="171" y="703.9" font-size="17.9" text-anchor="middle" fill="#000" >40</text>
<line x1="186.65" y1="685.75" x2="186.65" y2="683.75" stroke="#000" stroke-width="1.3" />
<line x1="202.3" y1="685.75" x2="202.3" y2="683.75" stroke="#000" stroke-width="1.3" />
<line x1="217.95" y1="685.75" x2="217.95" y2="683.75" stroke="#000" stroke-width="1.3" />
<line x1="233.6" y1="685.75" x2="233.6" y2="682.55" stroke="#000" stroke-width="1.3" />
<text x="233.6" y="703.9" font-size="17.9" text-anchor="middle" fill="#000" >60</text>
<line x1="249.25" y1="685.75" x2="249.25" y2="683.75" stroke="#000" stroke-width="1.3" />
<line x1="264.9" y1="685.75" x2="264.9" y2="683.75" stroke="#000" stroke-width="1.3" />
<line x1="280.55" y1="685.75" x2="280.55" y2="683.75" stroke="#000" stroke-width="1.3" />
<line x1="296.2" y1="685.75" x2="296.2" y2="682.55" stroke="#000" stroke-width="1.3" />
<text x="296.2" y="703.9" font-size="17.9" text-anchor="middle" fill="#000" >80</text>
<line x1="311.85" y1="685.75" x2="311.85" y2="683.75" stroke="#000" stroke-width="1.3" />
<line x1="327.5" y1="685.75" x2="327.5" y2="683.75" stroke="#000" stroke-width="1.3" />
<line x1="343.15" y1="685.75" x2="343.15" y2="683.75" stroke="#000" stroke-width="1.3" />
<line x1="358.8" y1="685.75" x2="358.8" y2="682.55" stroke="#000" stroke-width="1.3" />
<text x="359.5" y="703.9" font-size="17.9" text-anchor="middle" fill="#000" >100</text>
<text x="3" y="516.8" font-size="17.9" text-anchor="start" fill="#000" >correlations</text>
<text x="371.8" y="691.4" font-size="17.9" text-anchor="start" font-style="italic" fill="#000" >I</text>
<text x="264.5" y="602.5" font-size="17.9" text-anchor="middle" fill="#000" >total</text>
<text x="264.5" y="624.6" font-size="17.9" text-anchor="middle" fill="#000" >classical</text>
<text x="264.5" y="646.3" font-size="17.9" text-anchor="middle" fill="#000" >quantum</text>
<line x1="304.75" y1="596.25" x2="328.1" y2="596.25" stroke="#000" stroke-width="1.8" />
<line x1="304.75" y1="618.5" x2="328.1" y2="618.5" stroke="#ff0000" stroke-width="1.8" stroke-dasharray="4.3 1.9"/>
<line x1="304.75" y1="641" x2="326" y2="641" stroke="#0000ff" stroke-width="1.8" stroke-dasharray="2.3 1.55"/>
<text x="190.9" y="729.6" font-size="17" text-anchor="middle" fill="#1c1c1c" letter-spacing="0.3"><tspan font-size="18.6" dy="0.55">(</tspan><tspan dy="-0.55">d</tspan><tspan font-size="18.6" dy="0.55">)</tspan></text>
<path d="M521.7 685.75 L522.75 684.72 L523.79 683.69 L524.84 682.68 L525.89 681.67 L526.93 680.66 L527.98 679.66 L529.03 678.67 L530.07 677.69 L531.12 676.71 L532.16 675.73 L533.21 674.77 L534.26 673.81 L535.3 672.85 L536.35 671.9 L537.4 670.96 L538.44 670.02 L539.49 669.09 L540.54 668.17 L541.58 667.25 L542.63 666.33 L543.68 665.43 L544.72 664.52 L545.77 663.63 L546.82 662.73 L547.86 661.85 L548.91 660.97 L549.96 660.09 L551 659.22 L552.05 658.36 L553.09 657.5 L554.14 656.64 L555.19 655.79 L556.23 654.95 L557.28 654.11 L558.33 653.27 L559.37 652.44 L560.42 651.62 L561.47 650.8 L562.51 649.98 L563.56 649.17 L564.61 648.36 L565.65 647.56 L566.7 646.76 L567.75 645.97 L568.79 645.18 L569.84 644.4 L570.88 643.62 L571.93 642.85 L572.98 642.08 L574.02 641.31 L575.07 640.55 L576.12 639.79 L577.16 639.04 L578.21 638.29 L579.26 637.54 L580.3 636.8 L581.35 636.07 L582.4 635.34 L583.44 634.61 L584.49 633.88 L585.54 633.16 L586.58 632.45 L587.63 631.73 L588.68 631.02 L589.72 630.32 L590.77 629.62 L591.81 628.92 L592.86 628.23 L593.91 627.54 L594.95 626.85 L596 626.17 L597.05 625.49 L598.09 624.81 L599.14 624.14 L600.19 623.47 L601.23 622.81 L602.28 622.15 L603.33 621.49 L604.37 620.83 L605.42 620.18 L606.47 619.54 L607.51 618.89 L608.56 618.25 L609.61 617.61 L610.65 616.98 L611.7 616.35 L612.74 615.72 L613.79 615.09 L614.84 614.47 L615.88 613.85 L616.93 613.24 L617.98 612.63 L619.02 612.02 L620.07 611.41 L621.12 610.81 L622.16 610.21 L623.21 609.61 L624.26 609.02 L625.3 608.42 L626.35 607.84 L627.4 607.25 L628.44 606.67 L629.49 606.09 L630.53 605.51 L631.58 604.94 L632.63 604.37 L633.67 603.8 L634.72 603.23 L635.77 602.67 L636.81 602.11 L637.86 601.55 L638.91 601 L639.95 600.44 L641 599.89 L642.05 599.35 L643.09 598.8 L644.14 598.26 L645.19 597.72 L646.23 597.18 L647.28 596.65 L648.33 596.12 L649.37 595.59 L650.42 595.06 L651.46 594.54 L652.51 594.02 L653.56 593.5 L654.6 592.98 L655.65 592.46 L656.7 591.95 L657.74 591.44 L658.79 590.93 L659.84 590.43 L660.88 589.93 L661.93 589.43 L662.98 588.93 L664.02 588.43 L665.07 587.94 L666.12 587.45 L667.16 586.96 L668.21 586.47 L669.25 585.98 L670.3 585.5 L671.35 585.02 L672.39 584.54 L673.44 584.06 L674.49 583.59 L675.53 583.12 L676.58 582.65 L677.63 582.18 L678.67 581.71 L679.72 581.25 L680.77 580.79 L681.81 580.33 L682.86 579.87 L683.91 579.41 L684.95 578.96 L686 578.51 L687.05 578.06 L688.09 577.61 L689.14 577.16 L690.18 576.72 L691.23 576.28 L692.28 575.84 L693.32 575.4 L694.37 574.96 L695.42 574.53 L696.46 574.09 L697.51 573.66 L698.56 573.23 L699.6 572.8 L700.65 572.38 L701.7 571.95 L702.74 571.53 L703.79 571.11 L704.84 570.69 L705.88 570.28 L706.93 569.86 L707.97 569.45 L709.02 569.03 L710.07 568.62 L711.11 568.22 L712.16 567.81 L713.21 567.4 L714.25 567 L715.3 566.6 L716.35 566.2 L717.39 565.8 L718.44 565.4 L719.49 565.01 L720.53 564.61 L721.58 564.22 L722.63 563.83 L723.67 563.44 L724.72 563.05 L725.77 562.67 L726.81 562.28 L727.86 561.9 L728.9 561.52 L729.95 561.14 L731 560.76 L732.04 560.38 L733.09 560.01 L734.14 559.64 L735.18 559.26 L736.23 558.89 L737.28 558.52 L738.32 558.15 L739.37 557.79 L740.42 557.42 L741.46 557.06 L742.51 556.7 L743.56 556.34 L744.6 555.98 L745.65 555.62 L746.69 555.26 L747.74 554.91 L748.79 554.55 L749.83 554.2 L750.88 553.85 L751.93 553.5 L752.97 553.15 L754.02 552.8 L755.07 552.46 L756.11 552.11 L757.16 551.77 L758.21 551.42 L759.25 551.08 L760.3 550.74 L761.35 550.41 L762.39 550.07 L763.44 549.73 L764.49 549.4 L765.53 549.07 L766.58 548.73 L767.62 548.4 L768.67 548.07 L769.72 547.74 L770.76 547.42 L771.81 547.09 L772.86 546.77 L773.9 546.44 L774.95 546.12 L776 545.8 L777.04 545.48 L778.09 545.16 L779.14 544.84 L780.18 544.53 L781.23 544.21 L782.28 543.9 L783.32 543.58 L784.37 543.27 L785.42 542.96 L786.46 542.65 L787.51 542.34 L788.55 542.03 L789.6 541.73 L790.65 541.42 L791.69 541.12 L792.74 540.81 L793.79 540.51 L794.83 540.21 L795.88 539.91 L796.93 539.61 L797.97 539.31 L799.02 539.02 L800.07 538.72 L801.11 538.43 L802.16 538.13 L803.21 537.84 L804.25 537.55 L805.3 537.26 L806.34 536.97 L807.39 536.68 L808.44 536.39 L809.48 536.1 L810.53 535.82 L811.58 535.53 L812.62 535.25 L813.67 534.97 L814.72 534.68 L815.76 534.4 L816.81 534.12 L817.86 533.84 L818.9 533.57 L819.95 533.29 L821 533.01 L822.04 532.74 L823.09 532.46 L824.14 532.19 L825.18 531.92 L826.23 531.65 L827.27 531.37 L828.32 531.11 L829.37 530.84 L830.41 530.57 L831.46 530.3 L832.51 530.04 L833.55 529.77 L834.6 529.51" fill="none" stroke="#000" stroke-width="1.8" stroke-linejoin="round"/>
<path d="M521.7 685.75 L522.75 685.64 L523.79 685.53 L524.84 685.4 L525.89 685.27 L526.93 685.13 L527.98 684.99 L529.03 684.83 L530.07 684.68 L531.12 684.52 L532.16 684.37 L533.21 684.2 L534.26 684.03 L535.3 683.84 L536.35 683.63 L537.4 683.4 L538.44 683.15 L539.49 682.88 L540.54 682.61 L541.58 682.32 L542.63 682.03 L543.68 681.73 L544.72 681.42 L545.77 681.1 L546.82 680.78 L547.86 680.46 L548.91 680.13 L549.96 679.8 L551 679.47 L552.05 679.14 L553.09 678.81 L554.14 678.48 L555.19 678.14 L556.23 677.81 L557.28 677.47 L558.33 677.12 L559.37 676.78 L560.42 676.43 L561.47 676.08 L562.51 675.73 L563.56 675.38 L564.61 675.03 L565.65 674.67 L566.7 674.32 L567.75 673.96 L568.79 673.6 L569.84 673.24 L570.88 672.89 L571.93 672.54 L572.98 672.19 L574.02 671.84 L575.07 671.48 L576.12 671.11 L577.16 670.74 L578.21 670.35 L579.26 669.95 L580.3 669.53 L581.35 669.11 L582.4 668.69 L583.44 668.26 L584.49 667.83 L585.54 667.4 L586.58 666.97 L587.63 666.54 L588.68 666.1 L589.72 665.67 L590.77 665.23 L591.81 664.79 L592.86 664.35 L593.91 663.91 L594.95 663.47 L596 663.03 L597.05 662.58 L598.09 662.14 L599.14 661.69 L600.19 661.25 L601.23 660.8 L602.28 660.36 L603.33 659.91 L604.37 659.47 L605.42 659.02 L606.47 658.58 L607.51 658.13 L608.56 657.68 L609.61 657.24 L610.65 656.79 L611.7 656.35 L612.74 655.9 L613.79 655.46 L614.84 655.02 L615.88 654.57 L616.93 654.13 L617.98 653.69 L619.02 653.25 L620.07 652.81 L621.12 652.38 L622.16 651.94 L623.21 651.51 L624.26 651.07 L625.3 650.64 L626.35 650.21 L627.4 649.78 L628.44 649.34 L629.49 648.91 L630.53 648.48 L631.58 648.05 L632.63 647.62 L633.67 647.18 L634.72 646.75 L635.77 646.32 L636.81 645.89 L637.86 645.45 L638.91 645.02 L639.95 644.58 L641 644.15 L642.05 643.71 L643.09 643.28 L644.14 642.84 L645.19 642.4 L646.23 641.96 L647.28 641.52 L648.33 641.08 L649.37 640.64 L650.42 640.21 L651.46 639.77 L652.51 639.34 L653.56 638.91 L654.6 638.48 L655.65 638.05 L656.7 637.62 L657.74 637.2 L658.79 636.78 L659.84 636.35 L660.88 635.93 L661.93 635.51 L662.98 635.09 L664.02 634.68 L665.07 634.26 L666.12 633.85 L667.16 633.43 L668.21 633.02 L669.25 632.61 L670.3 632.2 L671.35 631.79 L672.39 631.38 L673.44 630.97 L674.49 630.57 L675.53 630.16 L676.58 629.76 L677.63 629.35 L678.67 628.95 L679.72 628.55 L680.77 628.14 L681.81 627.74 L682.86 627.34 L683.91 626.94 L684.95 626.55 L686 626.15 L687.05 625.75 L688.09 625.35 L689.14 624.96 L690.18 624.56 L691.23 624.17 L692.28 623.77 L693.32 623.38 L694.37 622.99 L695.42 622.59 L696.46 622.2 L697.51 621.81 L698.56 621.42 L699.6 621.03 L700.65 620.64 L701.7 620.25 L702.74 619.86 L703.79 619.47 L704.84 619.08 L705.88 618.7 L706.93 618.31 L707.97 617.92 L709.02 617.53 L710.07 617.15 L711.11 616.76 L712.16 616.38 L713.21 616 L714.25 615.62 L715.3 615.24 L716.35 614.86 L717.39 614.48 L718.44 614.11 L719.49 613.74 L720.53 613.36 L721.58 612.99 L722.63 612.62 L723.67 612.26 L724.72 611.89 L725.77 611.52 L726.81 611.16 L727.86 610.79 L728.9 610.43 L729.95 610.07 L731 609.71 L732.04 609.35 L733.09 608.99 L734.14 608.63 L735.18 608.28 L736.23 607.92 L737.28 607.56 L738.32 607.21 L739.37 606.86 L740.42 606.5 L741.46 606.15 L742.51 605.8 L743.56 605.45 L744.6 605.1 L745.65 604.75 L746.69 604.4 L747.74 604.05 L748.79 603.7 L749.83 603.36 L750.88 603.01 L751.93 602.66 L752.97 602.32 L754.02 601.97 L755.07 601.63 L756.11 601.28 L757.16 600.94 L758.21 600.59 L759.25 600.25 L760.3 599.9 L761.35 599.55 L762.39 599.2 L763.44 598.85 L764.49 598.5 L765.53 598.15 L766.58 597.81 L767.62 597.46 L768.67 597.11 L769.72 596.77 L770.76 596.43 L771.81 596.09 L772.86 595.75 L773.9 595.41 L774.95 595.08 L776 594.75 L777.04 594.41 L778.09 594.08 L779.14 593.75 L780.18 593.42 L781.23 593.09 L782.28 592.76 L783.32 592.44 L784.37 592.11 L785.42 591.79 L786.46 591.47 L787.51 591.14 L788.55 590.82 L789.6 590.5 L790.65 590.18 L791.69 589.87 L792.74 589.55 L793.79 589.23 L794.83 588.92 L795.88 588.61 L796.93 588.29 L797.97 587.98 L799.02 587.67 L800.07 587.36 L801.11 587.05 L802.16 586.74 L803.21 586.44 L804.25 586.13 L805.3 585.83 L806.34 585.52 L807.39 585.22 L808.44 584.91 L809.48 584.61 L810.53 584.31 L811.58 584.01 L812.62 583.71 L813.67 583.41 L814.72 583.12 L815.76 582.82 L816.81 582.53 L817.86 582.23 L818.9 581.94 L819.95 581.64 L821 581.35 L822.04 581.06 L823.09 580.77 L824.14 580.48 L825.18 580.19 L826.23 579.9 L827.27 579.61 L828.32 579.32 L829.37 579.04 L830.41 578.75 L831.46 578.47 L832.51 578.18 L833.55 577.9 L834.6 577.62" fill="none" stroke="#ff0000" stroke-width="1.8" stroke-dasharray="4.5 1.5" stroke-linejoin="round"/>
<path d="M521.7 685.75 L522.75 684.83 L523.79 683.92 L524.84 683.02 L525.89 682.14 L526.93 681.28 L527.98 680.43 L529.03 679.59 L530.07 678.76 L531.12 677.94 L532.16 677.12 L533.21 676.31 L534.26 675.53 L535.3 674.76 L536.35 674.02 L537.4 673.31 L538.44 672.63 L539.49 671.96 L540.54 671.31 L541.58 670.68 L542.63 670.06 L543.68 669.45 L544.72 668.86 L545.77 668.27 L546.82 667.7 L547.86 667.14 L548.91 666.58 L549.96 666.04 L551 665.5 L552.05 664.96 L553.09 664.43 L554.14 663.91 L555.19 663.4 L556.23 662.89 L557.28 662.39 L558.33 661.9 L559.37 661.41 L560.42 660.93 L561.47 660.46 L562.51 660 L563.56 659.54 L564.61 659.08 L565.65 658.64 L566.7 658.2 L567.75 657.76 L568.79 657.33 L569.84 656.91 L570.88 656.48 L571.93 656.05 L572.98 655.63 L574.02 655.22 L575.07 654.82 L576.12 654.43 L577.16 654.05 L578.21 653.69 L579.26 653.35 L580.3 653.02 L581.35 652.71 L582.4 652.4 L583.44 652.09 L584.49 651.8 L585.54 651.51 L586.58 651.22 L587.63 650.94 L588.68 650.67 L589.72 650.4 L590.77 650.14 L591.81 649.88 L592.86 649.62 L593.91 649.38 L594.95 649.13 L596 648.89 L597.05 648.66 L598.09 648.42 L599.14 648.2 L600.19 647.97 L601.23 647.75 L602.28 647.54 L603.33 647.33 L604.37 647.12 L605.42 646.91 L606.47 646.71 L607.51 646.51 L608.56 646.32 L609.61 646.12 L610.65 645.93 L611.7 645.75 L612.74 645.56 L613.79 645.38 L614.84 645.21 L615.88 645.03 L616.93 644.86 L617.98 644.68 L619.02 644.51 L620.07 644.35 L621.12 644.18 L622.16 644.01 L623.21 643.85 L624.26 643.69 L625.3 643.53 L626.35 643.38 L627.4 643.22 L628.44 643.07 L629.49 642.93 L630.53 642.78 L631.58 642.64 L632.63 642.5 L633.67 642.36 L634.72 642.23 L635.77 642.1 L636.81 641.97 L637.86 641.85 L638.91 641.73 L639.95 641.61 L641 641.5 L642.05 641.38 L643.09 641.28 L644.14 641.17 L645.19 641.07 L646.23 640.97 L647.28 640.88 L648.33 640.79 L649.37 640.7 L650.42 640.61 L651.46 640.52 L652.51 640.43 L653.56 640.34 L654.6 640.25 L655.65 640.16 L656.7 640.08 L657.74 639.99 L658.79 639.91 L659.84 639.83 L660.88 639.74 L661.93 639.66 L662.98 639.58 L664.02 639.5 L665.07 639.43 L666.12 639.35 L667.16 639.27 L668.21 639.2 L669.25 639.13 L670.3 639.05 L671.35 638.98 L672.39 638.91 L673.44 638.84 L674.49 638.77 L675.53 638.71 L676.58 638.64 L677.63 638.58 L678.67 638.52 L679.72 638.45 L680.77 638.39 L681.81 638.33 L682.86 638.28 L683.91 638.22 L684.95 638.16 L686 638.11 L687.05 638.06 L688.09 638.01 L689.14 637.96 L690.18 637.91 L691.23 637.86 L692.28 637.81 L693.32 637.77 L694.37 637.72 L695.42 637.68 L696.46 637.64 L697.51 637.6 L698.56 637.56 L699.6 637.52 L700.65 637.49 L701.7 637.45 L702.74 637.42 L703.79 637.39 L704.84 637.36 L705.88 637.33 L706.93 637.3 L707.97 637.28 L709.02 637.25 L710.07 637.23 L711.11 637.2 L712.16 637.18 L713.21 637.16 L714.25 637.13 L715.3 637.11 L716.35 637.09 L717.39 637.06 L718.44 637.04 L719.49 637.02 L720.53 637 L721.58 636.98 L722.63 636.96 L723.67 636.94 L724.72 636.91 L725.77 636.89 L726.81 636.88 L727.86 636.86 L728.9 636.84 L729.95 636.82 L731 636.8 L732.04 636.79 L733.09 636.77 L734.14 636.75 L735.18 636.74 L736.23 636.72 L737.28 636.71 L738.32 636.7 L739.37 636.68 L740.42 636.67 L741.46 636.66 L742.51 636.65 L743.56 636.64 L744.6 636.63 L745.65 636.62 L746.69 636.61 L747.74 636.61 L748.79 636.6 L749.83 636.59 L750.88 636.59 L751.93 636.58 L752.97 636.58 L754.02 636.58 L755.07 636.58 L756.11 636.58 L757.16 636.58 L758.21 636.58 L759.25 636.59 L760.3 636.6 L761.35 636.61 L762.39 636.62 L763.44 636.63 L764.49 636.65 L765.53 636.66 L766.58 636.68 L767.62 636.69 L768.67 636.71 L769.72 636.72 L770.76 636.74 L771.81 636.75 L772.86 636.76 L773.9 636.78 L774.95 636.79 L776 636.8 L777.04 636.82 L778.09 636.83 L779.14 636.84 L780.18 636.86 L781.23 636.87 L782.28 636.88 L783.32 636.89 L784.37 636.91 L785.42 636.92 L786.46 636.93 L787.51 636.95 L788.55 636.96 L789.6 636.97 L790.65 636.99 L791.69 637 L792.74 637.01 L793.79 637.03 L794.83 637.04 L795.88 637.05 L796.93 637.07 L797.97 637.08 L799.02 637.1 L800.07 637.11 L801.11 637.12 L802.16 637.14 L803.21 637.15 L804.25 637.17 L805.3 637.18 L806.34 637.2 L807.39 637.21 L808.44 637.23 L809.48 637.24 L810.53 637.26 L811.58 637.27 L812.62 637.29 L813.67 637.3 L814.72 637.32 L815.76 637.33 L816.81 637.35 L817.86 637.36 L818.9 637.38 L819.95 637.4 L821 637.41 L822.04 637.43 L823.09 637.45 L824.14 637.46 L825.18 637.48 L826.23 637.5 L827.27 637.51 L828.32 637.53 L829.37 637.55 L830.41 637.57 L831.46 637.59" fill="none" stroke="#0000ff" stroke-width="1.8" stroke-dasharray="2.3 1.5" stroke-linejoin="round"/>
<line x1="515.25" y1="685.75" x2="840.8" y2="685.75" stroke="#000" stroke-width="1.6" />
<line x1="521.7" y1="526.25" x2="521.7" y2="688.9" stroke="#000" stroke-width="1.6" />
<line x1="521.7" y1="685.75" x2="524.9" y2="685.75" stroke="#000" stroke-width="1.3" />
<line x1="521.7" y1="681.32" x2="523.7" y2="681.32" stroke="#000" stroke-width="1.3" />
<line x1="521.7" y1="676.89" x2="523.7" y2="676.89" stroke="#000" stroke-width="1.3" />
<line x1="521.7" y1="672.46" x2="523.7" y2="672.46" stroke="#000" stroke-width="1.3" />
<line x1="521.7" y1="668.03" x2="523.7" y2="668.03" stroke="#000" stroke-width="1.3" />
<line x1="521.7" y1="663.6" x2="524.9" y2="663.6" stroke="#000" stroke-width="1.3" />
<text x="518.6" y="669.9" font-size="17.9" text-anchor="end" fill="#000" >0.005</text>
<line x1="521.7" y1="659.17" x2="523.7" y2="659.17" stroke="#000" stroke-width="1.3" />
<line x1="521.7" y1="654.74" x2="523.7" y2="654.74" stroke="#000" stroke-width="1.3" />
<line x1="521.7" y1="650.31" x2="523.7" y2="650.31" stroke="#000" stroke-width="1.3" />
<line x1="521.7" y1="645.88" x2="523.7" y2="645.88" stroke="#000" stroke-width="1.3" />
<line x1="521.7" y1="641.45" x2="524.9" y2="641.45" stroke="#000" stroke-width="1.3" />
<text x="518.6" y="647.75" font-size="17.9" text-anchor="end" fill="#000" >0.010</text>
<line x1="521.7" y1="637.02" x2="523.7" y2="637.02" stroke="#000" stroke-width="1.3" />
<line x1="521.7" y1="632.59" x2="523.7" y2="632.59" stroke="#000" stroke-width="1.3" />
<line x1="521.7" y1="628.16" x2="523.7" y2="628.16" stroke="#000" stroke-width="1.3" />
<line x1="521.7" y1="623.73" x2="523.7" y2="623.73" stroke="#000" stroke-width="1.3" />
<line x1="521.7" y1="619.3" x2="524.9" y2="619.3" stroke="#000" stroke-width="1.3" />
<text x="518.6" y="625.6" font-size="17.9" text-anchor="end" fill="#000" >0.015</text>
<line x1="521.7" y1="614.87" x2="523.7" y2="614.87" stroke="#000" stroke-width="1.3" />
<line x1="521.7" y1="610.44" x2="523.7" y2="610.44" stroke="#000" stroke-width="1.3" />
<line x1="521.7" y1="606.01" x2="523.7" y2="606.01" stroke="#000" stroke-width="1.3" />
<line x1="521.7" y1="601.58" x2="523.7" y2="601.58" stroke="#000" stroke-width="1.3" />
<line x1="521.7" y1="597.15" x2="524.9" y2="597.15" stroke="#000" stroke-width="1.3" />
<text x="518.6" y="603.45" font-size="17.9" text-anchor="end" fill="#000" >0.020</text>
<line x1="521.7" y1="592.72" x2="523.7" y2="592.72" stroke="#000" stroke-width="1.3" />
<line x1="521.7" y1="588.29" x2="523.7" y2="588.29" stroke="#000" stroke-width="1.3" />
<line x1="521.7" y1="583.86" x2="523.7" y2="583.86" stroke="#000" stroke-width="1.3" />
<line x1="521.7" y1="579.43" x2="523.7" y2="579.43" stroke="#000" stroke-width="1.3" />
<line x1="521.7" y1="575" x2="524.9" y2="575" stroke="#000" stroke-width="1.3" />
<text x="518.6" y="581.3" font-size="17.9" text-anchor="end" fill="#000" >0.025</text>
<line x1="521.7" y1="570.57" x2="523.7" y2="570.57" stroke="#000" stroke-width="1.3" />
<line x1="521.7" y1="566.14" x2="523.7" y2="566.14" stroke="#000" stroke-width="1.3" />
<line x1="521.7" y1="561.71" x2="523.7" y2="561.71" stroke="#000" stroke-width="1.3" />
<line x1="521.7" y1="557.28" x2="523.7" y2="557.28" stroke="#000" stroke-width="1.3" />
<line x1="521.7" y1="552.85" x2="524.9" y2="552.85" stroke="#000" stroke-width="1.3" />
<text x="518.6" y="559.15" font-size="17.9" text-anchor="end" fill="#000" >0.030</text>
<line x1="521.7" y1="548.42" x2="523.7" y2="548.42" stroke="#000" stroke-width="1.3" />
<line x1="521.7" y1="543.99" x2="523.7" y2="543.99" stroke="#000" stroke-width="1.3" />
<line x1="521.7" y1="539.56" x2="523.7" y2="539.56" stroke="#000" stroke-width="1.3" />
<line x1="521.7" y1="535.13" x2="523.7" y2="535.13" stroke="#000" stroke-width="1.3" />
<line x1="521.7" y1="530.7" x2="524.9" y2="530.7" stroke="#000" stroke-width="1.3" />
<text x="518.6" y="537" font-size="17.9" text-anchor="end" fill="#000" >0.035</text>
<line x1="537.35" y1="685.75" x2="537.35" y2="683.75" stroke="#000" stroke-width="1.3" />
<line x1="552.99" y1="685.75" x2="552.99" y2="683.75" stroke="#000" stroke-width="1.3" />
<line x1="568.63" y1="685.75" x2="568.63" y2="683.75" stroke="#000" stroke-width="1.3" />
<line x1="584.28" y1="685.75" x2="584.28" y2="682.55" stroke="#000" stroke-width="1.3" />
<text x="584.28" y="703.9" font-size="17.9" text-anchor="middle" fill="#000" >0.2</text>
<line x1="599.93" y1="685.75" x2="599.93" y2="683.75" stroke="#000" stroke-width="1.3" />
<line x1="615.57" y1="685.75" x2="615.57" y2="683.75" stroke="#000" stroke-width="1.3" />
<line x1="631.22" y1="685.75" x2="631.22" y2="683.75" stroke="#000" stroke-width="1.3" />
<line x1="646.86" y1="685.75" x2="646.86" y2="682.55" stroke="#000" stroke-width="1.3" />
<text x="646.86" y="703.9" font-size="17.9" text-anchor="middle" fill="#000" >0.4</text>
<line x1="662.51" y1="685.75" x2="662.51" y2="683.75" stroke="#000" stroke-width="1.3" />
<line x1="678.15" y1="685.75" x2="678.15" y2="683.75" stroke="#000" stroke-width="1.3" />
<line x1="693.8" y1="685.75" x2="693.8" y2="683.75" stroke="#000" stroke-width="1.3" />
<line x1="709.44" y1="685.75" x2="709.44" y2="682.55" stroke="#000" stroke-width="1.3" />
<text x="709.44" y="703.9" font-size="17.9" text-anchor="middle" fill="#000" >0.6</text>
<line x1="725.09" y1="685.75" x2="725.09" y2="683.75" stroke="#000" stroke-width="1.3" />
<line x1="740.73" y1="685.75" x2="740.73" y2="683.75" stroke="#000" stroke-width="1.3" />
<line x1="756.38" y1="685.75" x2="756.38" y2="683.75" stroke="#000" stroke-width="1.3" />
<line x1="772.02" y1="685.75" x2="772.02" y2="682.55" stroke="#000" stroke-width="1.3" />
<text x="772.02" y="703.9" font-size="17.9" text-anchor="middle" fill="#000" >0.8</text>
<line x1="787.67" y1="685.75" x2="787.67" y2="683.75" stroke="#000" stroke-width="1.3" />
<line x1="803.31" y1="685.75" x2="803.31" y2="683.75" stroke="#000" stroke-width="1.3" />
<line x1="818.96" y1="685.75" x2="818.96" y2="683.75" stroke="#000" stroke-width="1.3" />
<line x1="834.6" y1="685.75" x2="834.6" y2="682.55" stroke="#000" stroke-width="1.3" />
<text x="834.6" y="703.9" font-size="17.9" text-anchor="middle" fill="#000" >1.0</text>
<text x="478.6" y="516.8" font-size="17.9" text-anchor="start" fill="#000" >correlations</text>
<text x="847.6" y="691.5" font-size="17.9" text-anchor="start" font-style="italic" fill="#000" >I</text>
<text x="568" y="545.9" font-size="17.9" text-anchor="middle" fill="#000" >total</text>
<text x="568" y="567.5" font-size="17.9" text-anchor="middle" fill="#000" >classical</text>
<text x="568" y="589.6" font-size="17.9" text-anchor="middle" fill="#000" >quantum</text>
<line x1="605.3" y1="539.9" x2="625.6" y2="539.9" stroke="#000" stroke-width="1.8" />
<line x1="605.3" y1="561.8" x2="625.6" y2="561.8" stroke="#ff0000" stroke-width="1.8" stroke-dasharray="4.3 1.9"/>
<line x1="605.3" y1="583.9" x2="623" y2="583.9" stroke="#0000ff" stroke-width="1.8" stroke-dasharray="2.3 1.55"/>
<text x="666.8" y="729.8" font-size="17" text-anchor="middle" fill="#1c1c1c" letter-spacing="0.3"><tspan font-size="18.6" dy="0.55">(</tspan><tspan dy="-0.55">e</tspan><tspan font-size="18.6" dy="0.55">)</tspan></text>
</svg></body></html>
